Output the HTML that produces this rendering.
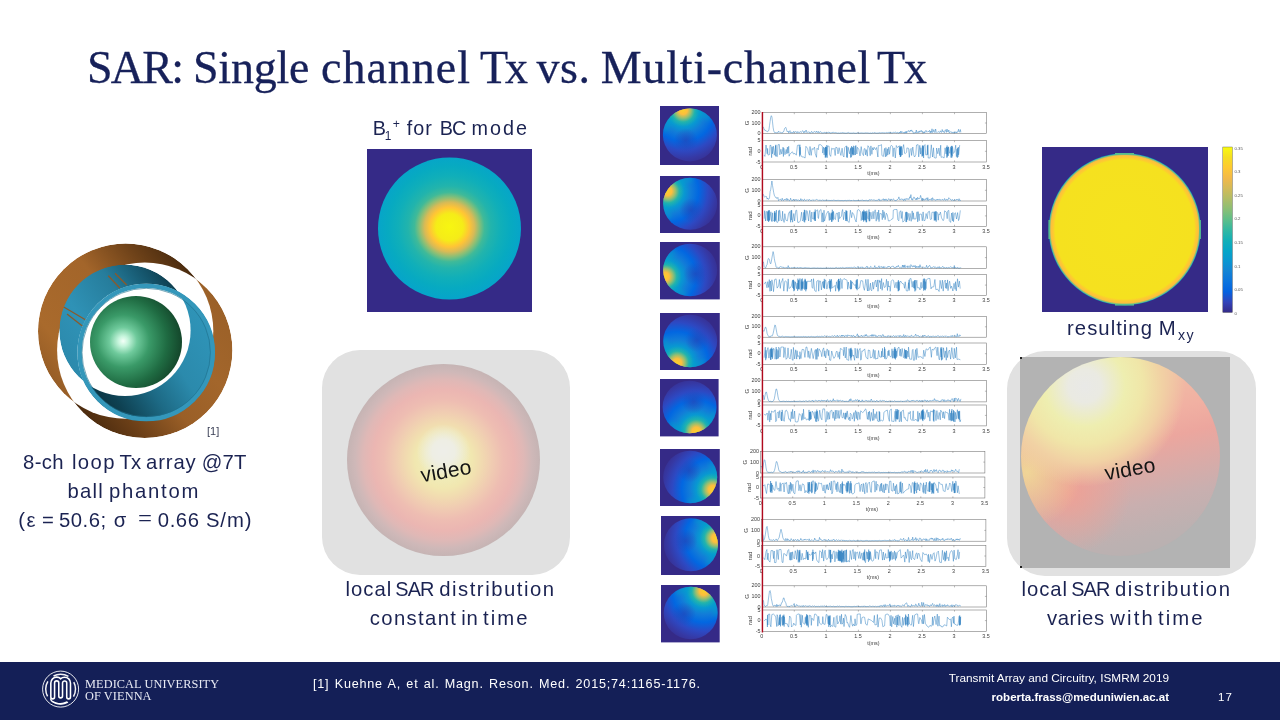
<!DOCTYPE html>
<html><head><meta charset="utf-8"><title>SAR: Single channel Tx vs. Multi-channel Tx</title>
<style>
html,body{margin:0;padding:0;background:#fff}
#s{position:relative;width:1280px;height:720px;overflow:hidden;background:#fff;font-family:"Liberation Sans",sans-serif;color:#1b2352}
#s div,#s svg{position:absolute}
.t{white-space:nowrap;text-align:center;font-size:19px;line-height:29px;letter-spacing:.45px;word-spacing:2px}
h1{position:absolute;margin:0;left:87px;top:41px;font-family:"Liberation Serif",serif;font-weight:normal;font-size:46px;line-height:54px;white-space:nowrap;letter-spacing:-.12px;-webkit-text-stroke:.3px #17215a;color:#17215a}
sub,sup{font-size:58%;line-height:0}sub{vertical-align:-.3em}sup{vertical-align:.52em}
</style></head><body><div id="s">
<h1><span style="position:absolute;left:0.0px;top:0;letter-spacing:-1.76px">SAR:</span> <span style="position:absolute;left:106.0px;top:0;letter-spacing:-0.23px">Single</span> <span style="position:absolute;left:234.0px;top:0;letter-spacing:1.00px">channel</span> <span style="position:absolute;left:393.0px;top:0;letter-spacing:-3.10px">Tx</span> <span style="position:absolute;left:449.4px;top:0;letter-spacing:0.60px">vs.</span> <span style="position:absolute;left:513.8px;top:0;letter-spacing:0.75px">Multi-channel</span> <span style="position:absolute;left:790.0px;top:0;letter-spacing:-1.10px">Tx</span> </h1>

<svg style="left:367px;top:149px" width="165" height="163" viewBox="0 0 165 163"><defs><radialGradient id="bc" cx="50%" cy="49%" r="50%"><stop offset="0.000" stop-color="#f7f611"/><stop offset="0.190" stop-color="#f5ec18"/><stop offset="0.280" stop-color="#ffc436"/><stop offset="0.350" stop-color="#d8ba56"/><stop offset="0.420" stop-color="#88bf77"/><stop offset="0.490" stop-color="#3fba99"/><stop offset="0.580" stop-color="#22b4ac"/><stop offset="0.720" stop-color="#10afb9"/><stop offset="0.860" stop-color="#07aac1"/><stop offset="1.000" stop-color="#06a5c9"/></radialGradient></defs><rect width="165" height="163" fill="#352a87"/><ellipse cx="82.5" cy="79.5" rx="71.5" ry="71" fill="url(#bc)"/></svg>
<div style="left:322px;top:350px;width:248px;height:225px;border-radius:38px;background:#e1e1e1"></div>
<div style="left:347px;top:364px;width:193px;height:192px;border-radius:50%;background:radial-gradient(circle 27px at 50% 45.5%,#eeeee9 0,#eeeee4 42%,rgba(240,238,200,0) 100%),radial-gradient(circle 98px at 50% 50%,#efedc8 0,#f0ecb8 18%,#f1e7b0 29%,#f1dab0 39%,#f0cbb2 50%,#eebdb2 61%,#ebb6b2 72%,#dfb8b6 82%,#cfb8b8 90%,#c3b3b3 100%)"></div>
<div style="left:403.6px;top:458.5px;width:84px;font-size:21px;line-height:24px;letter-spacing:.2px;text-align:center;color:#141414;transform:rotate(-10deg)">video</div>
<div style="left:1007px;top:351px;width:249px;height:225px;border-radius:38px;background:#e1e1e1"></div>
<div style="left:1020px;top:357px;width:210px;height:211px;background:#b3b3b3"></div>
<div style="left:1020px;top:357px;width:210px;height:211px;overflow:hidden"><div style="left:0.5px;top:-0.5px;width:199px;height:199px;border-radius:50%;background:radial-gradient(circle 150px at 32% 14.6%,#e9e9e7 0,#eaeae2 11%,#eeeeb0 27%,#f0e6a8 39%,#f1d2a4 51%,rgba(240,195,160,0) 67%),radial-gradient(circle 55px at 3% 58%,rgba(240,222,150,.85) 0,rgba(240,200,150,0) 100%),radial-gradient(circle 62px at 24% 68%,rgba(240,160,148,.9) 0,rgba(240,160,148,0) 100%),linear-gradient(166deg,#f1cca8 0,#f1b0a2 36%,#eca69e 47%,#dcaaa6 58%,#c9afaf 71%,#bcb1b1 85%,#b5b1b1 100%)"></div></div>
<div style="left:1020px;top:357px;width:2px;height:2px;background:#222"></div><div style="left:1020px;top:566px;width:2px;height:2px;background:#222"></div>
<div style="left:1088px;top:456.5px;width:84px;font-size:21px;line-height:24px;letter-spacing:.2px;text-align:center;color:#141414;transform:rotate(-10deg)">video</div>
<svg style="left:1042px;top:147px" width="166" height="165" viewBox="0 0 166 165"><defs><radialGradient id="mx" cx="50%" cy="50%" r="50%"><stop offset="0.000" stop-color="#f5e31e"/><stop offset="0.915" stop-color="#f5e11f"/><stop offset="0.940" stop-color="#fdcb30"/><stop offset="0.970" stop-color="#fdbe3e"/><stop offset="0.987" stop-color="#7abf7c"/><stop offset="1.000" stop-color="#06a0cd"/></radialGradient></defs><rect width="166" height="165" fill="#352a87"/><circle cx="82.7" cy="82.3" r="76" fill="url(#mx)"/><g fill="#55bd8e"><rect x="73" y="6" width="19" height="1.6"/><rect x="73" y="157" width="19" height="1.6"/><rect x="6.4" y="73" width="1.6" height="19"/><rect x="157.3" y="73" width="1.6" height="19"/></g></svg>
<svg style="left:1218px;top:140px" width="40" height="180" viewBox="0 0 40 180"><defs><linearGradient id="cb" x1="0" y1="0" x2="0" y2="1"><stop offset="0.000" stop-color="#f9fb0e"/><stop offset="0.062" stop-color="#f5de21"/><stop offset="0.125" stop-color="#fec932"/><stop offset="0.188" stop-color="#f2b949"/><stop offset="0.250" stop-color="#d3bb58"/><stop offset="0.312" stop-color="#b1bd66"/><stop offset="0.375" stop-color="#8bbf75"/><stop offset="0.438" stop-color="#5ebe89"/><stop offset="0.500" stop-color="#33b8a1"/><stop offset="0.562" stop-color="#13b0b6"/><stop offset="0.625" stop-color="#06a6c7"/><stop offset="0.688" stop-color="#0a97d1"/><stop offset="0.750" stop-color="#1484d4"/><stop offset="0.812" stop-color="#0c74dd"/><stop offset="0.875" stop-color="#0462e0"/><stop offset="0.938" stop-color="#3243b9"/><stop offset="1.000" stop-color="#352a87"/></linearGradient></defs><rect x="4.8" y="7" width="9.6" height="165.5" fill="url(#cb)" stroke="#555" stroke-width=".4"/><text x="16.5" y="9.6" font-size="4.3" fill="#555" font-family="Liberation Sans,sans-serif">0.35</text><text x="16.5" y="33.2" font-size="4.3" fill="#555" font-family="Liberation Sans,sans-serif">0.3</text><text x="16.5" y="56.7" font-size="4.3" fill="#555" font-family="Liberation Sans,sans-serif">0.25</text><text x="16.5" y="80.3" font-size="4.3" fill="#555" font-family="Liberation Sans,sans-serif">0.2</text><text x="16.5" y="103.9" font-size="4.3" fill="#555" font-family="Liberation Sans,sans-serif">0.15</text><text x="16.5" y="127.5" font-size="4.3" fill="#555" font-family="Liberation Sans,sans-serif">0.1</text><text x="16.5" y="151.0" font-size="4.3" fill="#555" font-family="Liberation Sans,sans-serif">0.05</text><text x="16.5" y="174.6" font-size="4.3" fill="#555" font-family="Liberation Sans,sans-serif">0</text></svg>
<svg style="left:20px;top:235px" width="240" height="215" viewBox="20 235 240 215">
<defs>
<mask id="mb1" maskUnits="userSpaceOnUse" x="20" y="235" width="240" height="215"><circle cx="125.65" cy="331.15" r="87.65" fill="#fff"/><circle cx="144.75" cy="350.25" r="87.65" fill="#000"/></mask>
<mask id="mb2" maskUnits="userSpaceOnUse" x="20" y="235" width="240" height="215"><circle cx="144.75" cy="350.25" r="87.65" fill="#fff"/><circle cx="125.65" cy="331.15" r="87.65" fill="#000"/></mask>
<mask id="mt1" maskUnits="userSpaceOnUse" x="20" y="235" width="240" height="215"><circle cx="125.00" cy="330.40" r="65.60" fill="#fff"/><circle cx="146.20" cy="352.50" r="68.80" fill="#000"/></mask>
<mask id="mt2" maskUnits="userSpaceOnUse" x="20" y="235" width="240" height="215"><circle cx="146.20" cy="352.50" r="68.80" fill="#fff"/><circle cx="125.00" cy="330.40" r="65.60" fill="#000"/></mask>
<linearGradient id="b1" gradientUnits="userSpaceOnUse" x1="45" y1="390" x2="200" y2="265"><stop offset="0" stop-color="#8f5824"/><stop offset=".2" stop-color="#a96a2c"/><stop offset=".55" stop-color="#a3652a"/><stop offset=".78" stop-color="#6e4219"/><stop offset="1" stop-color="#3e230b"/></linearGradient>
<linearGradient id="b2" gradientUnits="userSpaceOnUse" x1="225" y1="300" x2="75" y2="425"><stop offset="0" stop-color="#9a6028"/><stop offset=".3" stop-color="#a3662b"/><stop offset=".55" stop-color="#9a5f27"/><stop offset=".78" stop-color="#6a3e17"/><stop offset="1" stop-color="#3e230b"/></linearGradient>
<linearGradient id="t1" gradientUnits="userSpaceOnUse" x1="62" y1="370" x2="185" y2="285"><stop offset="0" stop-color="#2b88aa"/><stop offset=".3" stop-color="#2f92b6"/><stop offset=".6" stop-color="#267d9c"/><stop offset=".82" stop-color="#15556c"/><stop offset="1" stop-color="#0b3340"/></linearGradient>
<linearGradient id="t2" gradientUnits="userSpaceOnUse" x1="212" y1="330" x2="95" y2="405"><stop offset="0" stop-color="#2f94b8"/><stop offset=".35" stop-color="#2b8aac"/><stop offset=".6" stop-color="#1d6a85"/><stop offset=".85" stop-color="#0e4152"/><stop offset="1" stop-color="#0a303d"/></linearGradient>
<radialGradient id="gb" cx="36%" cy="49%" r="68%"><stop offset="0" stop-color="#f4fff8"/><stop offset=".08" stop-color="#c6f5dc"/><stop offset=".22" stop-color="#6fca9c"/><stop offset=".42" stop-color="#3a9a68"/><stop offset=".7" stop-color="#1f6b42"/><stop offset="1" stop-color="#113d25"/></radialGradient>
</defs>
<g mask="url(#mb1)"><circle cx="125.65" cy="331.15" r="87.65" fill="url(#b1)"/></g><g mask="url(#mb2)"><circle cx="144.75" cy="350.25" r="87.65" fill="url(#b2)"/></g>
<g mask="url(#mt1)"><circle cx="125.00" cy="330.40" r="65.60" fill="url(#t1)"/><g stroke="#8a5a2c" stroke-width="1.3"><line x1="108.3" y1="275.8" x2="120" y2="288.3"/><line x1="115" y1="273.3" x2="126.7" y2="285"/><line x1="63.3" y1="306.7" x2="85.8" y2="320"/><line x1="67" y1="314" x2="83.3" y2="326.7"/></g></g>
<g mask="url(#mt2)"><circle cx="146.20" cy="352.50" r="68.80" fill="url(#t2)"/></g>
<circle cx="146.20" cy="352.50" r="66.60" fill="none" stroke="#3497ba" stroke-width="4.4"/><circle cx="146.20" cy="352.50" r="64.20" fill="none" stroke="#1f6f8c" stroke-width=".6"/>
<circle cx="136" cy="342" r="46" fill="url(#gb)"/>
<text x="207" y="435" font-size="11" fill="#3a3f55" font-family="Liberation Sans,sans-serif">[1]</text>
</svg>
<svg style="left:660.0px;top:106.1px" width="59.2" height="59.2" viewBox="0 0 59.2 59.2"><defs><radialGradient id="m0" gradientUnits="userSpaceOnUse" cx="23.1" cy="4.1" r="54.0"><stop offset="0.00" stop-color="#fad12b"/><stop offset="0.08" stop-color="#fdbe3e"/><stop offset="0.15" stop-color="#95bf71"/><stop offset="0.22" stop-color="#22b4ac"/><stop offset="0.31" stop-color="#0899d1"/><stop offset="0.43" stop-color="#127cd8"/><stop offset="0.58" stop-color="#0267e1"/><stop offset="0.75" stop-color="#2d49c3"/><stop offset="0.90" stop-color="#3638a3"/><stop offset="1.00" stop-color="#363093"/></radialGradient><radialGradient id="h0" gradientUnits="userSpaceOnUse" cx="23.1" cy="4.1" r="54.0"><stop offset="0.00" stop-color="#fad12b" stop-opacity="1.00"/><stop offset="0.08" stop-color="#fdbe3e" stop-opacity="1.00"/><stop offset="0.15" stop-color="#95bf71" stop-opacity="0.95"/><stop offset="0.22" stop-color="#22b4ac" stop-opacity="0.60"/><stop offset="0.30" stop-color="#06a0cd" stop-opacity="0.00"/></radialGradient><radialGradient id="d0" gradientUnits="userSpaceOnUse" cx="25.9" cy="34.2" r="12"><stop offset="0" stop-color="#2a3fb0" stop-opacity=".6"/><stop offset="1" stop-color="#2a3fb0" stop-opacity="0"/></radialGradient><clipPath id="c0"><ellipse cx="29.9" cy="28.9" rx="27.0" ry="26.5"/></clipPath><filter id="f0" x="-30%" y="-30%" width="160%" height="160%"><feGaussianBlur stdDeviation="2.2"/></filter></defs><rect width="59.2" height="59.2" fill="#352a87"/><ellipse cx="29.9" cy="28.9" rx="27.0" ry="26.5" fill="url(#m0)"/><g clip-path="url(#c0)"><path d="M5.1 25.0A25.1 24.6 0 0 1 49.4 13.4" fill="none" stroke="#06a3cb" stroke-width="5" stroke-opacity=".55" filter="url(#f0)"/></g><ellipse cx="29.9" cy="28.9" rx="27.0" ry="26.5" fill="url(#h0)"/><ellipse cx="29.9" cy="28.9" rx="27.0" ry="26.5" fill="url(#d0)"/></svg>
<svg style="left:660.0px;top:175.9px" width="59.8" height="57.0" viewBox="0 0 59.8 57.0"><defs><radialGradient id="m1" gradientUnits="userSpaceOnUse" cx="7.5" cy="15.2" r="54.0"><stop offset="0.00" stop-color="#fad12b"/><stop offset="0.08" stop-color="#fdbe3e"/><stop offset="0.15" stop-color="#95bf71"/><stop offset="0.22" stop-color="#22b4ac"/><stop offset="0.31" stop-color="#0899d1"/><stop offset="0.43" stop-color="#127cd8"/><stop offset="0.58" stop-color="#0267e1"/><stop offset="0.75" stop-color="#2d49c3"/><stop offset="0.90" stop-color="#3638a3"/><stop offset="1.00" stop-color="#363093"/></radialGradient><radialGradient id="h1" gradientUnits="userSpaceOnUse" cx="7.5" cy="15.2" r="54.0"><stop offset="0.00" stop-color="#fad12b" stop-opacity="1.00"/><stop offset="0.08" stop-color="#fdbe3e" stop-opacity="1.00"/><stop offset="0.15" stop-color="#95bf71" stop-opacity="0.95"/><stop offset="0.22" stop-color="#22b4ac" stop-opacity="0.60"/><stop offset="0.30" stop-color="#06a0cd" stop-opacity="0.00"/></radialGradient><radialGradient id="d1" gradientUnits="userSpaceOnUse" cx="31.2" cy="34.2" r="12"><stop offset="0" stop-color="#2a3fb0" stop-opacity=".6"/><stop offset="1" stop-color="#2a3fb0" stop-opacity="0"/></radialGradient><clipPath id="c1"><ellipse cx="30.2" cy="27.8" rx="27.0" ry="26.0"/></clipPath><filter id="f1" x="-30%" y="-30%" width="160%" height="160%"><feGaussianBlur stdDeviation="2.2"/></filter></defs><rect width="59.8" height="57.0" fill="#352a87"/><ellipse cx="30.2" cy="27.8" rx="27.0" ry="26.0" fill="url(#m1)"/><g clip-path="url(#c1)"><path d="M9.9 42.0A25.1 24.2 0 0 1 32.8 3.7" fill="none" stroke="#06a3cb" stroke-width="5" stroke-opacity=".55" filter="url(#f1)"/></g><ellipse cx="30.2" cy="27.8" rx="27.0" ry="26.0" fill="url(#h1)"/><ellipse cx="30.2" cy="27.8" rx="27.0" ry="26.0" fill="url(#d1)"/></svg>
<svg style="left:660.0px;top:242.2px" width="59.8" height="57.4" viewBox="0 0 59.8 57.4"><defs><radialGradient id="m2" gradientUnits="userSpaceOnUse" cx="4.9" cy="34.6" r="54.0"><stop offset="0.00" stop-color="#fad12b"/><stop offset="0.08" stop-color="#fdbe3e"/><stop offset="0.15" stop-color="#95bf71"/><stop offset="0.22" stop-color="#22b4ac"/><stop offset="0.31" stop-color="#0899d1"/><stop offset="0.43" stop-color="#127cd8"/><stop offset="0.58" stop-color="#0267e1"/><stop offset="0.75" stop-color="#2d49c3"/><stop offset="0.90" stop-color="#3638a3"/><stop offset="1.00" stop-color="#363093"/></radialGradient><radialGradient id="h2" gradientUnits="userSpaceOnUse" cx="4.9" cy="34.6" r="54.0"><stop offset="0.00" stop-color="#fad12b" stop-opacity="1.00"/><stop offset="0.08" stop-color="#fdbe3e" stop-opacity="1.00"/><stop offset="0.15" stop-color="#95bf71" stop-opacity="0.95"/><stop offset="0.22" stop-color="#22b4ac" stop-opacity="0.60"/><stop offset="0.30" stop-color="#06a0cd" stop-opacity="0.00"/></radialGradient><radialGradient id="d2" gradientUnits="userSpaceOnUse" cx="35.6" cy="31.9" r="12"><stop offset="0" stop-color="#2a3fb0" stop-opacity=".6"/><stop offset="1" stop-color="#2a3fb0" stop-opacity="0"/></radialGradient><clipPath id="c2"><ellipse cx="30.2" cy="28.0" rx="27.0" ry="26.2"/></clipPath><filter id="f2" x="-30%" y="-30%" width="160%" height="160%"><feGaussianBlur stdDeviation="2.2"/></filter></defs><rect width="59.8" height="57.4" fill="#352a87"/><ellipse cx="30.2" cy="28.0" rx="27.0" ry="26.2" fill="url(#m2)"/><g clip-path="url(#c2)"><path d="M26.2 52.1A25.1 24.4 0 0 1 14.4 9.1" fill="none" stroke="#06a3cb" stroke-width="5" stroke-opacity=".55" filter="url(#f2)"/></g><ellipse cx="30.2" cy="28.0" rx="27.0" ry="26.2" fill="url(#h2)"/><ellipse cx="30.2" cy="28.0" rx="27.0" ry="26.2" fill="url(#d2)"/></svg>
<svg style="left:660.0px;top:312.5px" width="59.8" height="57.4" viewBox="0 0 59.8 57.4"><defs><radialGradient id="m3" gradientUnits="userSpaceOnUse" cx="17.1" cy="50.0" r="54.0"><stop offset="0.00" stop-color="#fad12b"/><stop offset="0.08" stop-color="#fdbe3e"/><stop offset="0.15" stop-color="#95bf71"/><stop offset="0.22" stop-color="#22b4ac"/><stop offset="0.31" stop-color="#0899d1"/><stop offset="0.43" stop-color="#127cd8"/><stop offset="0.58" stop-color="#0267e1"/><stop offset="0.75" stop-color="#2d49c3"/><stop offset="0.90" stop-color="#3638a3"/><stop offset="1.00" stop-color="#363093"/></radialGradient><radialGradient id="h3" gradientUnits="userSpaceOnUse" cx="17.1" cy="50.0" r="54.0"><stop offset="0.00" stop-color="#fad12b" stop-opacity="1.00"/><stop offset="0.08" stop-color="#fdbe3e" stop-opacity="1.00"/><stop offset="0.15" stop-color="#95bf71" stop-opacity="0.95"/><stop offset="0.22" stop-color="#22b4ac" stop-opacity="0.60"/><stop offset="0.30" stop-color="#06a0cd" stop-opacity="0.00"/></radialGradient><radialGradient id="d3" gradientUnits="userSpaceOnUse" cx="36.9" cy="27.0" r="12"><stop offset="0" stop-color="#2a3fb0" stop-opacity=".6"/><stop offset="1" stop-color="#2a3fb0" stop-opacity="0"/></radialGradient><clipPath id="c3"><ellipse cx="30.2" cy="28.0" rx="27.0" ry="26.2"/></clipPath><filter id="f3" x="-30%" y="-30%" width="160%" height="160%"><feGaussianBlur stdDeviation="2.2"/></filter></defs><rect width="59.8" height="57.4" fill="#352a87"/><ellipse cx="30.2" cy="28.0" rx="27.0" ry="26.2" fill="url(#m3)"/><g clip-path="url(#c3)"><path d="M44.9 47.7A25.1 24.4 0 0 1 5.2 25.5" fill="none" stroke="#06a3cb" stroke-width="5" stroke-opacity=".55" filter="url(#f3)"/></g><ellipse cx="30.2" cy="28.0" rx="27.0" ry="26.2" fill="url(#h3)"/><ellipse cx="30.2" cy="28.0" rx="27.0" ry="26.2" fill="url(#d3)"/></svg>
<svg style="left:660.0px;top:379.4px" width="58.6" height="57.4" viewBox="0 0 58.6 57.4"><defs><radialGradient id="m4" gradientUnits="userSpaceOnUse" cx="36.4" cy="52.5" r="54.0"><stop offset="0.00" stop-color="#fad12b"/><stop offset="0.08" stop-color="#fdbe3e"/><stop offset="0.15" stop-color="#95bf71"/><stop offset="0.22" stop-color="#22b4ac"/><stop offset="0.31" stop-color="#0899d1"/><stop offset="0.43" stop-color="#127cd8"/><stop offset="0.58" stop-color="#0267e1"/><stop offset="0.75" stop-color="#2d49c3"/><stop offset="0.90" stop-color="#3638a3"/><stop offset="1.00" stop-color="#363093"/></radialGradient><radialGradient id="h4" gradientUnits="userSpaceOnUse" cx="36.4" cy="52.5" r="54.0"><stop offset="0.00" stop-color="#fad12b" stop-opacity="1.00"/><stop offset="0.08" stop-color="#fdbe3e" stop-opacity="1.00"/><stop offset="0.15" stop-color="#95bf71" stop-opacity="0.95"/><stop offset="0.22" stop-color="#22b4ac" stop-opacity="0.60"/><stop offset="0.30" stop-color="#06a0cd" stop-opacity="0.00"/></radialGradient><radialGradient id="d4" gradientUnits="userSpaceOnUse" cx="33.6" cy="22.7" r="12"><stop offset="0" stop-color="#2a3fb0" stop-opacity=".6"/><stop offset="1" stop-color="#2a3fb0" stop-opacity="0"/></radialGradient><clipPath id="c4"><ellipse cx="29.6" cy="28.0" rx="27.0" ry="26.2"/></clipPath><filter id="f4" x="-30%" y="-30%" width="160%" height="160%"><feGaussianBlur stdDeviation="2.2"/></filter></defs><rect width="58.6" height="57.4" fill="#352a87"/><ellipse cx="29.6" cy="28.0" rx="27.0" ry="26.2" fill="url(#m4)"/><g clip-path="url(#c4)"><path d="M54.4 31.9A25.1 24.4 0 0 1 10.1 43.4" fill="none" stroke="#06a3cb" stroke-width="5" stroke-opacity=".55" filter="url(#f4)"/></g><ellipse cx="29.6" cy="28.0" rx="27.0" ry="26.2" fill="url(#h4)"/><ellipse cx="29.6" cy="28.0" rx="27.0" ry="26.2" fill="url(#d4)"/></svg>
<svg style="left:660.0px;top:448.5px" width="59.8" height="57.4" viewBox="0 0 59.8 57.4"><defs><radialGradient id="m5" gradientUnits="userSpaceOnUse" cx="52.9" cy="40.7" r="54.0"><stop offset="0.00" stop-color="#fad12b"/><stop offset="0.08" stop-color="#fdbe3e"/><stop offset="0.15" stop-color="#95bf71"/><stop offset="0.22" stop-color="#22b4ac"/><stop offset="0.31" stop-color="#0899d1"/><stop offset="0.43" stop-color="#127cd8"/><stop offset="0.58" stop-color="#0267e1"/><stop offset="0.75" stop-color="#2d49c3"/><stop offset="0.90" stop-color="#3638a3"/><stop offset="1.00" stop-color="#363093"/></radialGradient><radialGradient id="h5" gradientUnits="userSpaceOnUse" cx="52.9" cy="40.7" r="54.0"><stop offset="0.00" stop-color="#fad12b" stop-opacity="1.00"/><stop offset="0.08" stop-color="#fdbe3e" stop-opacity="1.00"/><stop offset="0.15" stop-color="#95bf71" stop-opacity="0.95"/><stop offset="0.22" stop-color="#22b4ac" stop-opacity="0.60"/><stop offset="0.30" stop-color="#06a0cd" stop-opacity="0.00"/></radialGradient><radialGradient id="d5" gradientUnits="userSpaceOnUse" cx="29.2" cy="21.5" r="12"><stop offset="0" stop-color="#2a3fb0" stop-opacity=".6"/><stop offset="1" stop-color="#2a3fb0" stop-opacity="0"/></radialGradient><clipPath id="c5"><ellipse cx="30.2" cy="28.0" rx="27.0" ry="26.2"/></clipPath><filter id="f5" x="-30%" y="-30%" width="160%" height="160%"><feGaussianBlur stdDeviation="2.2"/></filter></defs><rect width="59.8" height="57.4" fill="#352a87"/><ellipse cx="30.2" cy="28.0" rx="27.0" ry="26.2" fill="url(#m5)"/><g clip-path="url(#c5)"><path d="M50.5 13.7A25.1 24.4 0 0 1 27.6 52.2" fill="none" stroke="#06a3cb" stroke-width="5" stroke-opacity=".55" filter="url(#f5)"/></g><ellipse cx="30.2" cy="28.0" rx="27.0" ry="26.2" fill="url(#h5)"/><ellipse cx="30.2" cy="28.0" rx="27.0" ry="26.2" fill="url(#d5)"/></svg>
<svg style="left:660.6px;top:516.2px" width="59.2" height="59.0" viewBox="0 0 59.2 59.0"><defs><radialGradient id="m6" gradientUnits="userSpaceOnUse" cx="55.2" cy="22.1" r="54.0"><stop offset="0.00" stop-color="#fad12b"/><stop offset="0.08" stop-color="#fdbe3e"/><stop offset="0.15" stop-color="#95bf71"/><stop offset="0.22" stop-color="#22b4ac"/><stop offset="0.31" stop-color="#0899d1"/><stop offset="0.43" stop-color="#127cd8"/><stop offset="0.58" stop-color="#0267e1"/><stop offset="0.75" stop-color="#2d49c3"/><stop offset="0.90" stop-color="#3638a3"/><stop offset="1.00" stop-color="#363093"/></radialGradient><radialGradient id="h6" gradientUnits="userSpaceOnUse" cx="55.2" cy="22.1" r="54.0"><stop offset="0.00" stop-color="#fad12b" stop-opacity="1.00"/><stop offset="0.08" stop-color="#fdbe3e" stop-opacity="1.00"/><stop offset="0.15" stop-color="#95bf71" stop-opacity="0.95"/><stop offset="0.22" stop-color="#22b4ac" stop-opacity="0.60"/><stop offset="0.30" stop-color="#06a0cd" stop-opacity="0.00"/></radialGradient><radialGradient id="d6" gradientUnits="userSpaceOnUse" cx="24.5" cy="24.9" r="12"><stop offset="0" stop-color="#2a3fb0" stop-opacity=".6"/><stop offset="1" stop-color="#2a3fb0" stop-opacity="0"/></radialGradient><clipPath id="c6"><ellipse cx="29.9" cy="28.8" rx="27.0" ry="26.5"/></clipPath><filter id="f6" x="-30%" y="-30%" width="160%" height="160%"><feGaussianBlur stdDeviation="2.2"/></filter></defs><rect width="59.2" height="59.0" fill="#352a87"/><ellipse cx="29.9" cy="28.8" rx="27.0" ry="26.5" fill="url(#m6)"/><g clip-path="url(#c6)"><path d="M33.9 4.5A25.1 24.6 0 0 1 45.7 47.9" fill="none" stroke="#06a3cb" stroke-width="5" stroke-opacity=".55" filter="url(#f6)"/></g><ellipse cx="29.9" cy="28.8" rx="27.0" ry="26.5" fill="url(#h6)"/><ellipse cx="29.9" cy="28.8" rx="27.0" ry="26.5" fill="url(#d6)"/></svg>
<svg style="left:661.0px;top:585.3px" width="58.7" height="57.4" viewBox="0 0 58.7 57.4"><defs><radialGradient id="m7" gradientUnits="userSpaceOnUse" cx="42.7" cy="6.0" r="54.0"><stop offset="0.00" stop-color="#fad12b"/><stop offset="0.08" stop-color="#fdbe3e"/><stop offset="0.15" stop-color="#95bf71"/><stop offset="0.22" stop-color="#22b4ac"/><stop offset="0.31" stop-color="#0899d1"/><stop offset="0.43" stop-color="#127cd8"/><stop offset="0.58" stop-color="#0267e1"/><stop offset="0.75" stop-color="#2d49c3"/><stop offset="0.90" stop-color="#3638a3"/><stop offset="1.00" stop-color="#363093"/></radialGradient><radialGradient id="h7" gradientUnits="userSpaceOnUse" cx="42.7" cy="6.0" r="54.0"><stop offset="0.00" stop-color="#fad12b" stop-opacity="1.00"/><stop offset="0.08" stop-color="#fdbe3e" stop-opacity="1.00"/><stop offset="0.15" stop-color="#95bf71" stop-opacity="0.95"/><stop offset="0.22" stop-color="#22b4ac" stop-opacity="0.60"/><stop offset="0.30" stop-color="#06a0cd" stop-opacity="0.00"/></radialGradient><radialGradient id="d7" gradientUnits="userSpaceOnUse" cx="23.0" cy="29.0" r="12"><stop offset="0" stop-color="#2a3fb0" stop-opacity=".6"/><stop offset="1" stop-color="#2a3fb0" stop-opacity="0"/></radialGradient><clipPath id="c7"><ellipse cx="29.7" cy="28.0" rx="27.0" ry="26.2"/></clipPath><filter id="f7" x="-30%" y="-30%" width="160%" height="160%"><feGaussianBlur stdDeviation="2.2"/></filter></defs><rect width="58.7" height="57.4" fill="#352a87"/><ellipse cx="29.7" cy="28.0" rx="27.0" ry="26.2" fill="url(#m7)"/><g clip-path="url(#c7)"><path d="M14.9 8.3A25.1 24.4 0 0 1 54.6 30.5" fill="none" stroke="#06a3cb" stroke-width="5" stroke-opacity=".55" filter="url(#f7)"/></g><ellipse cx="29.7" cy="28.0" rx="27.0" ry="26.2" fill="url(#h7)"/><ellipse cx="29.7" cy="28.0" rx="27.0" ry="26.2" fill="url(#d7)"/></svg>
<svg style="left:740px;top:100px" width="260" height="550" viewBox="740 100 260 550" font-family="Liberation Sans,sans-serif" font-size="5.4" fill="#3c3c3c"><g transform="translate(0.0 0)"><g fill="none" stroke="#6f6f6f" stroke-width=".55"><rect x="762.3" y="112.6" width="224.2" height="20.9"/><rect x="762.3" y="140.6" width="224.2" height="21.4"/></g><path d="M794.3 112.6v1.6M794.3 133.5v-1.6M794.3 140.6v1.6M794.3 162.0v-1.6M826.4 112.6v1.6M826.4 133.5v-1.6M826.4 140.6v1.6M826.4 162.0v-1.6M858.4 112.6v1.6M858.4 133.5v-1.6M858.4 140.6v1.6M858.4 162.0v-1.6M890.4 112.6v1.6M890.4 133.5v-1.6M890.4 140.6v1.6M890.4 162.0v-1.6M922.4 112.6v1.6M922.4 133.5v-1.6M922.4 140.6v1.6M922.4 162.0v-1.6M954.5 112.6v1.6M954.5 133.5v-1.6M954.5 140.6v1.6M954.5 162.0v-1.6M986.5 123.0h-1.6M986.5 151.3h-1.6" stroke="#777" stroke-width=".5" fill="none"/><text x="761.8" y="168.5" text-anchor="middle">0</text><text x="793.8" y="168.5" text-anchor="middle">0.5</text><text x="825.9" y="168.5" text-anchor="middle">1</text><text x="857.9" y="168.5" text-anchor="middle">1.5</text><text x="889.9" y="168.5" text-anchor="middle">2</text><text x="921.9" y="168.5" text-anchor="middle">2.5</text><text x="954.0" y="168.5" text-anchor="middle">3</text><text x="986.0" y="168.5" text-anchor="middle">3.5</text><text x="873.4" y="175.0" text-anchor="middle">t(ms)</text><text x="760.5" y="114.1" text-anchor="end">200</text><text x="760.5" y="124.5" text-anchor="end">100</text><text x="760.5" y="135.0" text-anchor="end">0</text><text x="760.5" y="142.1" text-anchor="end">5</text><text x="760.5" y="152.8" text-anchor="end">0</text><text x="760.5" y="163.5" text-anchor="end">-5</text><text transform="translate(749.0 123.0) rotate(-90)" text-anchor="middle" font-size="6">G</text><text transform="translate(752.3 151.3) rotate(-90)" text-anchor="middle" font-size="6.2">rad</text><path d="M762.3 127.2L762.9 127.2L763.5 127.2L764.1 129.7L764.7 129.7L765.3 130.8L765.9 130.4L766.5 131.3L767.1 131.0L767.7 131.7L768.3 131.2L768.9 130.0L769.5 125.5L770.1 121.5L770.7 117.3L771.3 115.7L771.9 116.9L772.5 121.8L773.1 127.3L773.7 130.7L774.3 132.2L774.9 132.9L775.5 132.5L776.1 132.4L776.7 132.8L777.3 132.7L777.9 132.4L778.5 131.2L779.1 132.5L779.8 131.8L780.4 132.4L781.0 132.3L781.6 132.8L782.2 133.0L782.8 132.1L783.4 132.0L784.0 130.6L784.6 128.4L785.2 127.9L785.8 127.3L786.4 129.1L787.0 131.3L787.6 132.0L788.2 131.1L788.8 133.1L789.4 131.5L790.0 130.6L790.6 132.8L791.2 133.0L791.8 132.1L792.4 132.5L793.0 133.1L793.6 131.3L794.2 132.1L794.8 132.3L795.4 131.9L796.0 131.3L796.6 132.7L797.2 133.0L797.8 131.5L798.4 132.4L799.0 132.4L799.6 132.6L800.2 131.5L800.8 131.9L801.4 132.5L802.0 131.5L802.6 130.6L803.2 131.3L803.8 132.9L804.4 131.4L805.0 132.5L805.6 130.8L806.2 130.0L806.8 132.7L807.4 132.3L808.0 131.8L808.6 132.0L809.2 131.9L809.8 133.0L810.4 132.9L811.0 132.7L811.6 131.3L812.2 132.5L812.8 132.6L813.4 132.6L814.1 131.4L814.7 131.8L815.3 132.1L815.9 132.6L816.5 131.1L817.1 132.5L817.7 132.3L818.3 131.3L818.9 133.0L819.5 132.2L820.1 131.9L820.7 131.6L821.3 132.7L821.9 133.0L822.5 132.9L823.1 132.6L823.7 133.1L824.3 132.2L824.9 132.6L825.5 132.8L826.1 132.3L826.7 133.2L827.3 132.5L827.9 132.4L828.5 132.0L829.1 132.8L829.7 132.2L830.3 133.1L830.9 133.1L831.5 133.0L832.1 132.2L832.7 132.5L833.3 132.4L833.9 132.4L834.5 132.7L835.1 132.8L835.7 132.5L836.3 132.7L836.9 133.0L837.5 133.1L838.1 133.1L838.7 132.9L839.3 133.1L839.9 133.1L840.5 132.9L841.1 133.2L841.7 132.8L842.3 132.9L842.9 132.3L843.5 133.1L844.1 133.0L844.7 133.0L845.3 133.2L845.9 132.9L846.5 133.1L847.1 133.1L847.7 132.6L848.4 132.4L849.0 132.8L849.6 133.1L850.2 133.1L850.8 133.1L851.4 133.1L852.0 133.0L852.6 133.1L853.2 133.1L853.8 132.6L854.4 133.1L855.0 133.1L855.6 133.2L856.2 133.1L856.8 133.2L857.4 132.6L858.0 133.1L858.6 133.0L859.2 133.0L859.8 133.2L860.4 133.0L861.0 133.0L861.6 132.9L862.2 132.9L862.8 133.1L863.4 133.1L864.0 133.1L864.6 133.0L865.2 132.7L865.8 133.0L866.4 132.9L867.0 133.1L867.6 132.9L868.2 133.2L868.8 132.9L869.4 133.2L870.0 133.1L870.6 133.0L871.2 133.2L871.8 133.2L872.4 132.8L873.0 132.9L873.6 133.1L874.2 132.5L874.8 132.9L875.4 132.9L876.0 133.1L876.6 133.1L877.2 133.0L877.8 133.1L878.4 133.0L879.0 132.7L879.6 132.7L880.2 133.0L880.8 132.8L881.4 132.8L882.0 132.6L882.6 132.7L883.3 132.9L883.9 132.5L884.5 132.8L885.1 133.2L885.7 132.6L886.3 132.8L886.9 132.4L887.5 132.7L888.1 132.3L888.7 132.6L889.3 133.1L889.9 132.0L890.5 132.3L891.1 133.1L891.7 132.8L892.3 132.9L892.9 132.9L893.5 132.2L894.1 132.5L894.7 132.4L895.3 132.1L895.9 132.1L896.5 133.1L897.1 132.6L897.7 132.4L898.3 133.1L898.9 133.1L899.5 132.0L900.1 133.0L900.7 131.2L901.3 132.8L901.9 131.5L902.5 132.4L903.1 132.9L903.7 132.3L904.3 133.2L904.9 131.9L905.5 133.1L906.1 131.1L906.7 133.1L907.3 131.5L907.9 130.8L908.5 130.6L909.1 132.1L909.7 131.7L910.3 130.1L910.9 131.4L911.5 129.9L912.1 131.4L912.7 131.1L913.3 133.2L913.9 132.9L914.5 133.1L915.1 132.2L915.7 132.8L916.3 130.0L916.9 133.1L917.6 132.2L918.2 131.4L918.8 132.8L919.4 130.9L920.0 132.2L920.6 131.2L921.2 130.2L921.8 132.1L922.4 131.3L923.0 131.7L923.6 133.2L924.2 131.7L924.8 132.9L925.4 131.0L926.0 130.3L926.6 132.0L927.2 131.5L927.8 132.1L928.4 131.5L929.0 131.7L929.6 130.3L930.2 133.0L930.8 131.0L931.4 132.5L932.0 128.8L932.6 132.6L933.2 132.0L933.8 129.6L934.4 131.8L935.0 132.7L935.6 129.0L936.2 131.6L936.8 132.6L937.4 132.3L938.0 131.7L938.6 131.8L939.2 132.0L939.8 132.6L940.4 130.8L941.0 132.0L941.6 132.4L942.2 129.5L942.8 131.6L943.4 130.9L944.0 132.7L944.6 132.4L945.2 129.8L945.8 130.1L946.4 132.4L947.0 129.0L947.6 131.6L948.2 132.0L948.8 130.0L949.4 133.0L950.0 132.3L950.6 131.7L951.2 131.7L951.9 133.0L952.5 132.7L953.1 131.9L953.7 133.1L954.3 132.9L954.9 131.6L955.5 132.6L956.1 131.8L956.7 133.0L957.3 131.9L957.9 132.0L958.5 129.3L959.1 131.6L959.7 132.3L960.3 129.5L960.9 132.3" fill="none" stroke="#2278bd" stroke-width=".5" stroke-opacity=".9"/><path d="M764.2 155.2L764.9 156.4L766.0 145.0L767.2 153.8L767.6 148.4L768.0 155.1L769.6 154.5L770.0 145.3L771.0 145.5L771.6 157.7L772.1 146.9L772.5 153.8L773.3 146.1L774.3 155.2L775.6 145.6L775.6 145.6L775.8 156.4L775.9 144.8L776.2 156.0L777.4 156.6L778.0 144.7L779.4 144.6L779.8 154.8L780.9 149.2L781.8 154.1L783.1 147.1L783.4 156.5L783.8 148.2L785.0 154.7L786.2 149.4L786.9 153.9L787.4 147.1L788.0 153.0L788.7 146.3L789.1 156.2L789.8 154.4L791.1 152.9L792.4 151.8L793.5 154.0L795.0 153.4L796.3 155.2L797.4 145.4L799.1 145.0L799.7 156.5L799.7 156.5L799.9 144.7L800.0 154.7L800.2 147.2L800.6 154.8L801.9 156.9L803.5 157.0L805.1 158.0L805.9 146.3L807.6 148.5L808.6 153.2L809.5 155.2L810.0 146.5L811.2 155.4L812.0 148.5L813.2 149.6L814.5 147.1L815.2 153.4L816.5 157.3L817.0 148.2L818.3 149.7L818.8 144.8L820.6 144.7L822.3 146.1L822.7 153.1L823.7 147.0L824.1 154.9L824.8 148.0L825.3 157.7L825.3 157.7L825.5 146.8L825.7 156.6L825.9 147.1L826.1 157.4L826.3 147.2L826.5 155.2L826.8 145.0L827.2 157.7L827.6 146.0L829.1 146.2L829.5 154.4L830.7 156.4L831.7 148.1L833.1 149.3L834.1 148.2L835.2 155.5L835.8 147.3L837.1 147.7L838.0 153.9L839.1 147.7L840.2 153.1L840.9 155.4L842.1 148.2L843.0 155.5L843.9 157.0L844.7 147.6L846.4 145.8L846.4 145.8L846.8 157.2L846.9 146.4L847.2 157.8L848.2 147.3L849.5 153.8L850.6 148.4L850.6 148.4L850.8 157.7L851.0 147.6L851.2 157.0L851.5 146.2L852.4 154.1L852.4 154.1L852.6 147.1L852.8 155.4L853.1 148.0L853.3 154.7L853.4 145.8L854.1 155.1L855.1 146.1L855.4 155.0L855.8 145.4L856.9 154.0L857.4 147.3L858.8 149.3L860.0 155.9L861.2 146.6L862.1 153.1L862.9 154.6L863.5 155.6L864.1 148.8L865.0 148.6L865.6 154.9L866.2 149.6L867.3 156.2L867.9 145.7L869.4 147.9L870.2 155.7L870.9 145.9L871.9 154.3L872.6 147.7L873.4 150.0L874.1 147.2L875.6 149.6L876.6 147.5L877.9 157.0L878.3 145.5L879.9 145.6L881.5 144.6L881.9 155.5L883.4 156.5L884.5 148.4L885.4 156.9L885.9 147.6L886.7 156.3L887.4 148.8L887.8 155.0L888.8 147.1L889.5 154.2L890.6 146.2L891.2 145.4L892.6 146.4L893.1 156.7L893.5 148.4L894.5 148.0L895.3 158.0L896.3 145.5L897.4 147.6L899.2 145.8L899.2 145.8L899.5 154.7L899.7 147.4L900.0 155.1L900.1 145.8L900.3 157.0L900.3 157.0L900.5 147.4L900.7 156.8L901.0 146.9L901.2 155.6L901.3 146.2L902.2 155.0L902.6 149.1L903.6 144.6L904.6 153.3L905.2 153.7L906.6 152.2L906.9 147.9L908.6 148.3L909.3 157.4L910.2 149.5L911.1 148.4L911.6 155.5L912.8 147.0L913.9 155.5L914.6 157.0L915.8 154.6L916.5 145.0L918.1 144.6L918.7 156.9L919.8 145.3L920.5 154.1L920.9 147.7L922.1 156.6L922.1 156.6L922.4 145.7L922.6 155.9L922.9 145.4L923.2 155.4L923.3 146.3L923.6 158.0L923.9 145.9L925.0 144.6L925.7 154.8L927.1 154.8L927.1 154.8L927.4 145.5L927.7 154.7L927.9 144.8L928.2 158.0L930.1 158.0L931.3 144.8L932.5 157.0L933.5 147.8L934.1 157.5L935.3 158.0L936.2 158.0L936.6 148.0L937.8 153.8L938.9 148.0L939.8 155.7L940.7 145.2L941.1 157.4L942.1 156.8L944.1 158.0L945.1 147.8L946.1 153.9L946.1 153.9L946.5 147.0L946.9 157.8L947.1 145.5L947.3 156.7L947.6 147.9L947.7 154.7L948.0 147.0L948.2 156.0L948.5 146.8L949.6 153.1L950.2 153.3L950.8 147.1L950.8 147.1L951.0 157.6L951.3 146.0L951.4 155.1L951.6 148.0L951.8 157.7L951.9 145.8L952.2 156.3L952.5 146.6L953.4 153.3L954.6 152.2L955.7 145.2L956.4 156.7L957.0 149.1L957.0 149.1L957.3 157.8L957.6 147.9L958.0 156.9L958.4 147.1L958.6 154.8L959.7 145.1" fill="none" stroke="#2278bd" stroke-width=".5" stroke-opacity=".9"/></g><g transform="translate(0.0 0)"><g fill="none" stroke="#6f6f6f" stroke-width=".55"><rect x="762.3" y="179.6" width="224.2" height="21.4"/><rect x="762.3" y="205.6" width="224.2" height="20.7"/></g><path d="M794.3 179.6v1.6M794.3 201.0v-1.6M794.3 205.6v1.6M794.3 226.3v-1.6M826.4 179.6v1.6M826.4 201.0v-1.6M826.4 205.6v1.6M826.4 226.3v-1.6M858.4 179.6v1.6M858.4 201.0v-1.6M858.4 205.6v1.6M858.4 226.3v-1.6M890.4 179.6v1.6M890.4 201.0v-1.6M890.4 205.6v1.6M890.4 226.3v-1.6M922.4 179.6v1.6M922.4 201.0v-1.6M922.4 205.6v1.6M922.4 226.3v-1.6M954.5 179.6v1.6M954.5 201.0v-1.6M954.5 205.6v1.6M954.5 226.3v-1.6M986.5 190.3h-1.6M986.5 215.9h-1.6" stroke="#777" stroke-width=".5" fill="none"/><text x="761.8" y="232.5" text-anchor="middle">0</text><text x="793.8" y="232.5" text-anchor="middle">0.5</text><text x="825.9" y="232.5" text-anchor="middle">1</text><text x="857.9" y="232.5" text-anchor="middle">1.5</text><text x="889.9" y="232.5" text-anchor="middle">2</text><text x="921.9" y="232.5" text-anchor="middle">2.5</text><text x="954.0" y="232.5" text-anchor="middle">3</text><text x="986.0" y="232.5" text-anchor="middle">3.5</text><text x="873.4" y="239.2" text-anchor="middle">t(ms)</text><text x="760.5" y="181.1" text-anchor="end">200</text><text x="760.5" y="191.8" text-anchor="end">100</text><text x="760.5" y="202.5" text-anchor="end">0</text><text x="760.5" y="207.1" text-anchor="end">5</text><text x="760.5" y="217.4" text-anchor="end">0</text><text x="760.5" y="227.8" text-anchor="end">-5</text><text transform="translate(749.0 190.3) rotate(-90)" text-anchor="middle" font-size="6">G</text><text transform="translate(752.3 215.9) rotate(-90)" text-anchor="middle" font-size="6.2">rad</text><path d="M762.3 194.6L762.9 194.6L763.5 194.6L764.1 196.3L764.7 197.2L765.3 196.6L765.9 196.4L766.5 196.6L767.1 199.1L767.7 198.1L768.3 199.3L768.9 199.1L769.5 197.9L770.1 191.6L770.7 189.7L771.3 185.4L771.9 181.0L772.5 185.5L773.1 188.9L773.7 192.6L774.3 195.2L774.9 196.6L775.5 197.2L776.1 197.1L776.7 198.4L777.3 198.3L777.9 197.4L778.5 200.5L779.1 200.3L779.8 199.4L780.4 199.2L781.0 200.2L781.6 200.5L782.2 198.2L782.8 199.9L783.4 200.6L784.0 199.8L784.6 199.1L785.2 200.2L785.8 199.3L786.4 198.4L787.0 200.6L787.6 198.7L788.2 200.0L788.8 200.1L789.4 200.6L790.0 200.4L790.6 198.2L791.2 199.9L791.8 200.7L792.4 200.2L793.0 200.7L793.6 199.1L794.2 200.1L794.8 200.6L795.4 200.3L796.0 199.2L796.6 200.4L797.2 199.8L797.8 200.6L798.4 199.7L799.0 200.4L799.6 200.5L800.2 200.5L800.8 198.6L801.4 200.5L802.0 199.4L802.6 199.9L803.2 200.6L803.8 200.6L804.4 199.1L805.0 199.7L805.6 200.5L806.2 199.9L806.8 200.2L807.4 199.7L808.0 200.4L808.6 200.4L809.2 199.3L809.8 200.1L810.4 200.4L811.0 199.9L811.6 200.4L812.2 200.4L812.8 199.6L813.4 200.1L814.1 200.5L814.7 199.9L815.3 200.2L815.9 200.0L816.5 199.4L817.1 199.6L817.7 200.0L818.3 200.0L818.9 200.6L819.5 200.2L820.1 200.0L820.7 200.4L821.3 200.6L821.9 200.2L822.5 199.8L823.1 200.6L823.7 200.2L824.3 200.2L824.9 200.7L825.5 200.4L826.1 200.5L826.7 200.1L827.3 200.3L827.9 200.3L828.5 200.4L829.1 200.3L829.7 200.5L830.3 200.5L830.9 200.5L831.5 200.4L832.1 200.5L832.7 200.4L833.3 200.1L833.9 200.3L834.5 200.3L835.1 200.5L835.7 200.5L836.3 200.6L836.9 200.4L837.5 200.4L838.1 200.6L838.7 200.3L839.3 200.6L839.9 200.4L840.5 200.6L841.1 200.6L841.7 200.5L842.3 200.6L842.9 200.5L843.5 200.7L844.1 200.5L844.7 200.5L845.3 200.4L845.9 200.5L846.5 200.7L847.1 200.7L847.7 200.3L848.4 200.4L849.0 200.4L849.6 200.3L850.2 200.6L850.8 200.5L851.4 200.5L852.0 200.6L852.6 200.0L853.2 200.6L853.8 200.0L854.4 200.5L855.0 200.7L855.6 200.6L856.2 200.5L856.8 200.6L857.4 200.5L858.0 200.6L858.6 200.4L859.2 200.7L859.8 200.5L860.4 200.4L861.0 200.5L861.6 200.3L862.2 200.4L862.8 199.8L863.4 200.6L864.0 200.4L864.6 200.5L865.2 200.3L865.8 200.6L866.4 200.3L867.0 200.6L867.6 200.7L868.2 200.6L868.8 200.6L869.4 199.5L870.0 200.4L870.6 199.9L871.2 199.9L871.8 199.6L872.4 200.2L873.0 199.8L873.6 199.9L874.2 199.9L874.8 200.2L875.4 200.4L876.0 200.5L876.6 200.3L877.2 200.1L877.8 200.4L878.4 200.1L879.0 198.9L879.6 200.6L880.2 199.8L880.8 200.6L881.4 200.1L882.0 200.0L882.6 199.8L883.3 198.7L883.9 200.4L884.5 199.2L885.1 200.5L885.7 199.1L886.3 199.1L886.9 200.6L887.5 200.5L888.1 199.5L888.7 198.6L889.3 200.0L889.9 200.1L890.5 200.3L891.1 198.9L891.7 199.9L892.3 200.4L892.9 199.3L893.5 198.8L894.1 199.9L894.7 200.5L895.3 200.5L895.9 200.6L896.5 200.4L897.1 199.5L897.7 199.5L898.3 198.9L898.9 196.9L899.5 199.6L900.1 200.0L900.7 199.2L901.3 198.7L901.9 199.8L902.5 199.3L903.1 199.4L903.7 200.7L904.3 198.8L904.9 200.0L905.5 200.4L906.1 198.3L906.7 199.3L907.3 199.5L907.9 198.4L908.5 199.4L909.1 199.6L909.7 196.8L910.3 197.9L910.9 194.6L911.5 199.6L912.1 198.6L912.7 200.2L913.3 198.4L913.9 196.9L914.5 197.6L915.1 199.3L915.7 199.7L916.3 198.1L916.9 200.0L917.6 197.3L918.2 199.0L918.8 198.5L919.4 199.1L920.0 197.8L920.6 195.4L921.2 197.5L921.8 200.5L922.4 198.1L923.0 200.3L923.6 198.7L924.2 200.4L924.8 199.4L925.4 199.9L926.0 198.1L926.6 198.1L927.2 200.4L927.8 197.6L928.4 200.3L929.0 200.2L929.6 199.2L930.2 199.9L930.8 199.5L931.4 198.4L932.0 200.5L932.6 197.7L933.2 199.0L933.8 199.9L934.4 199.6L935.0 200.2L935.6 200.3L936.2 199.5L936.8 200.2L937.4 199.0L938.0 200.0L938.6 199.6L939.2 199.1L939.8 200.1L940.4 199.9L941.0 199.6L941.6 200.2L942.2 199.3L942.8 199.6L943.4 200.2L944.0 200.0L944.6 198.5L945.2 200.0L945.8 200.4L946.4 199.5L947.0 199.0L947.6 200.3L948.2 199.4L948.8 197.7L949.4 198.6L950.0 199.4L950.6 199.2L951.2 200.2L951.9 200.3L952.5 199.5L953.1 200.6L953.7 200.3L954.3 199.9L954.9 199.4L955.5 200.3L956.1 200.3L956.7 199.1L957.3 199.8L957.9 199.5L958.5 200.5L959.1 198.7L959.7 200.5L960.3 200.5L960.9 200.0" fill="none" stroke="#2278bd" stroke-width=".5" stroke-opacity=".9"/><path d="M764.2 218.7L764.7 210.7L765.5 221.0L766.2 212.0L767.0 211.2L767.3 220.7L767.3 220.7L767.7 211.7L768.1 220.7L768.4 210.4L768.6 222.0L768.9 211.1L769.1 220.5L769.3 210.0L769.6 220.4L770.9 211.8L771.5 221.4L772.4 212.8L772.7 221.4L774.0 219.5L774.0 219.5L774.4 212.7L774.5 221.7L774.7 211.0L775.0 221.3L775.2 212.6L775.7 220.6L776.4 210.1L776.7 222.1L777.7 222.4L778.4 220.6L778.4 220.6L778.8 210.7L778.9 221.0L779.2 210.1L779.8 210.4L781.0 220.5L782.1 220.6L782.6 211.2L782.9 217.7L784.1 222.4L784.8 213.7L785.9 220.2L787.4 220.9L788.5 213.6L789.7 211.6L790.7 222.3L790.7 222.3L791.0 210.5L791.3 220.1L791.6 210.0L792.6 222.2L793.8 213.5L794.6 221.0L795.8 210.5L796.7 210.2L797.7 222.3L799.1 222.4L800.4 220.8L801.6 212.2L802.5 220.9L803.4 219.4L803.4 219.4L803.8 212.3L804.0 221.7L804.4 209.8L804.7 222.4L804.9 210.2L805.7 220.2L806.7 210.5L807.3 211.4L808.6 221.0L809.2 214.2L809.8 210.4L811.0 222.0L811.8 212.0L812.3 218.5L813.6 219.2L814.1 211.8L814.1 211.8L814.4 219.4L814.7 212.3L814.8 220.8L815.2 209.5L815.4 221.0L815.7 211.4L817.6 209.8L818.1 217.8L818.5 218.5L819.3 210.9L821.0 209.5L822.0 222.1L822.5 212.8L823.3 222.1L824.0 210.2L824.5 221.1L825.1 218.9L826.3 214.2L826.8 213.2L828.2 211.1L829.3 220.5L829.8 212.7L830.3 219.9L831.3 213.6L831.3 213.6L831.5 221.8L831.7 212.6L832.1 221.6L832.3 209.7L832.7 219.3L832.8 212.1L833.2 220.2L833.5 211.3L834.2 218.3L835.4 219.5L836.1 213.5L837.4 213.0L838.4 221.9L839.0 212.0L839.6 218.6L841.5 216.1L841.9 211.8L842.6 209.5L843.5 219.7L844.5 212.1L845.6 213.2L845.6 213.2L845.7 221.0L846.0 210.2L846.2 219.3L846.4 211.2L846.7 221.1L846.9 210.9L847.6 221.2L849.2 222.4L850.4 210.2L851.6 217.7L852.4 212.5L853.9 214.8L855.2 219.9L856.2 222.0L857.4 210.3L858.7 209.5L859.4 210.5L859.9 210.8L860.8 212.6L861.2 220.6L862.5 211.6L862.5 211.6L862.8 219.9L863.0 211.3L863.2 220.2L863.4 211.9L863.6 221.6L863.8 209.8L864.1 219.8L864.5 211.5L864.5 211.5L864.9 220.5L865.2 211.5L865.4 220.2L865.8 211.4L866.1 222.2L866.4 212.7L866.6 222.2L866.8 210.7L867.5 217.9L868.3 219.3L869.0 209.5L869.0 209.5L869.2 221.2L869.5 211.9L869.7 221.2L870.9 212.2L871.9 219.1L873.1 211.4L873.9 218.9L874.3 213.6L875.2 209.8L876.2 221.2L877.2 212.1L878.0 219.5L878.7 210.0L879.0 221.6L879.8 213.4L881.7 213.9L882.3 219.7L882.8 210.0L883.7 217.7L884.1 211.7L885.1 219.7L886.3 213.2L887.3 214.9L888.4 220.9L890.0 220.8L891.2 219.5L893.0 218.5L893.3 210.1L894.5 209.6L895.6 209.5L897.0 209.5L897.8 219.8L898.8 220.8L899.4 212.4L900.7 210.7L901.3 218.5L902.2 211.5L902.8 222.1L904.6 220.4L905.8 212.2L905.8 212.2L906.0 222.1L906.3 211.8L906.6 221.9L907.0 212.0L907.3 219.8L908.1 213.2L909.3 220.7L910.0 213.4L911.2 221.3L912.2 210.9L912.9 219.4L913.4 212.8L914.0 219.0L915.9 219.0L917.0 211.8L917.7 221.9L918.1 211.6L919.2 220.7L919.5 214.2L921.3 214.0L922.3 220.8L923.1 211.9L923.9 220.7L925.0 220.4L926.1 213.5L927.3 218.7L928.0 212.0L929.5 211.3L930.1 218.3L930.5 219.5L931.5 219.1L931.9 212.4L933.7 212.0L934.3 220.6L934.3 220.6L934.6 211.8L934.9 220.1L935.3 211.2L935.6 220.4L936.0 211.8L936.2 221.7L936.3 211.6L937.6 212.7L938.3 220.2L938.8 214.0L939.6 214.7L940.4 212.1L941.5 217.7L942.0 218.8L943.2 220.7L943.9 219.1L944.6 210.8L946.4 212.2L947.2 218.7L947.8 210.9L948.8 210.4L949.3 220.6L950.6 222.4L951.6 213.0L952.5 220.8L952.9 212.4L953.5 221.7L954.4 213.8L955.4 212.7L956.5 219.0L957.6 212.6L958.5 220.6L959.3 218.5L960.3 210.4" fill="none" stroke="#2278bd" stroke-width=".5" stroke-opacity=".9"/></g><g transform="translate(0.0 0)"><g fill="none" stroke="#6f6f6f" stroke-width=".55"><rect x="762.3" y="246.8" width="224.2" height="21.7"/><rect x="762.3" y="274.6" width="224.2" height="20.9"/></g><path d="M794.3 246.8v1.6M794.3 268.5v-1.6M794.3 274.6v1.6M794.3 295.5v-1.6M826.4 246.8v1.6M826.4 268.5v-1.6M826.4 274.6v1.6M826.4 295.5v-1.6M858.4 246.8v1.6M858.4 268.5v-1.6M858.4 274.6v1.6M858.4 295.5v-1.6M890.4 246.8v1.6M890.4 268.5v-1.6M890.4 274.6v1.6M890.4 295.5v-1.6M922.4 246.8v1.6M922.4 268.5v-1.6M922.4 274.6v1.6M922.4 295.5v-1.6M954.5 246.8v1.6M954.5 268.5v-1.6M954.5 274.6v1.6M954.5 295.5v-1.6M986.5 257.6h-1.6M986.5 285.1h-1.6" stroke="#777" stroke-width=".5" fill="none"/><text x="761.8" y="301.9" text-anchor="middle">0</text><text x="793.8" y="301.9" text-anchor="middle">0.5</text><text x="825.9" y="301.9" text-anchor="middle">1</text><text x="857.9" y="301.9" text-anchor="middle">1.5</text><text x="889.9" y="301.9" text-anchor="middle">2</text><text x="921.9" y="301.9" text-anchor="middle">2.5</text><text x="954.0" y="301.9" text-anchor="middle">3</text><text x="986.0" y="301.9" text-anchor="middle">3.5</text><text x="873.4" y="308.0" text-anchor="middle">t(ms)</text><text x="760.5" y="248.3" text-anchor="end">200</text><text x="760.5" y="259.1" text-anchor="end">100</text><text x="760.5" y="270.0" text-anchor="end">0</text><text x="760.5" y="276.1" text-anchor="end">5</text><text x="760.5" y="286.6" text-anchor="end">0</text><text x="760.5" y="297.0" text-anchor="end">-5</text><text transform="translate(749.0 257.6) rotate(-90)" text-anchor="middle" font-size="6">G</text><text transform="translate(752.3 285.1) rotate(-90)" text-anchor="middle" font-size="6.2">rad</text><path d="M762.3 262.0L762.9 262.0L763.5 262.0L764.1 266.5L764.7 267.3L765.3 267.5L765.9 267.6L766.5 265.3L767.1 264.8L767.7 260.6L768.3 258.6L768.9 258.7L769.5 259.7L770.1 263.1L770.7 263.9L771.3 261.8L771.9 258.0L772.5 254.7L773.1 251.6L773.7 254.0L774.3 258.5L774.9 261.9L775.5 263.7L776.1 267.2L776.7 267.4L777.3 267.0L777.9 267.7L778.5 268.0L779.1 268.1L779.8 266.8L780.4 266.6L781.0 267.1L781.6 267.0L782.2 267.5L782.8 266.8L783.4 268.0L784.0 267.4L784.6 268.0L785.2 268.0L785.8 267.4L786.4 267.5L787.0 267.8L787.6 268.1L788.2 265.6L788.8 267.8L789.4 267.8L790.0 267.5L790.6 268.1L791.2 267.5L791.8 268.0L792.4 267.8L793.0 267.6L793.6 267.7L794.2 267.1L794.8 267.7L795.4 267.7L796.0 268.0L796.6 267.9L797.2 267.7L797.8 267.3L798.4 268.1L799.0 267.6L799.6 267.8L800.2 267.2L800.8 267.9L801.4 267.7L802.0 268.1L802.6 268.0L803.2 268.1L803.8 267.9L804.4 268.1L805.0 267.3L805.6 268.0L806.2 267.9L806.8 267.8L807.4 267.9L808.0 267.9L808.6 267.9L809.2 267.9L809.8 268.1L810.4 268.2L811.0 268.1L811.6 268.1L812.2 268.1L812.8 267.9L813.4 267.9L814.1 267.9L814.7 267.9L815.3 268.0L815.9 268.1L816.5 268.1L817.1 268.1L817.7 267.8L818.3 268.0L818.9 268.1L819.5 268.1L820.1 267.8L820.7 268.1L821.3 268.1L821.9 268.1L822.5 268.2L823.1 268.1L823.7 268.1L824.3 268.2L824.9 268.0L825.5 268.1L826.1 268.0L826.7 268.1L827.3 268.0L827.9 268.1L828.5 267.9L829.1 268.1L829.7 268.1L830.3 267.9L830.9 267.9L831.5 268.1L832.1 267.8L832.7 268.1L833.3 268.2L833.9 267.9L834.5 268.2L835.1 267.9L835.7 267.6L836.3 267.5L836.9 267.5L837.5 268.1L838.1 268.0L838.7 267.8L839.3 267.9L839.9 268.0L840.5 267.6L841.1 267.7L841.7 268.0L842.3 267.5L842.9 267.4L843.5 267.8L844.1 267.7L844.7 268.1L845.3 267.8L845.9 267.7L846.5 267.5L847.1 268.0L847.7 267.4L848.4 267.6L849.0 267.3L849.6 267.5L850.2 267.8L850.8 267.3L851.4 267.4L852.0 267.4L852.6 267.8L853.2 267.7L853.8 267.0L854.4 266.8L855.0 267.8L855.6 267.6L856.2 267.8L856.8 268.0L857.4 267.5L858.0 266.3L858.6 267.2L859.2 268.2L859.8 267.5L860.4 268.0L861.0 266.8L861.6 267.4L862.2 266.8L862.8 268.1L863.4 267.8L864.0 267.8L864.6 268.1L865.2 267.6L865.8 267.5L866.4 267.3L867.0 266.0L867.6 267.9L868.2 267.4L868.8 268.1L869.4 268.0L870.0 268.0L870.6 266.4L871.2 266.7L871.8 267.5L872.4 268.1L873.0 267.8L873.6 268.0L874.2 267.5L874.8 265.6L875.4 268.0L876.0 268.1L876.6 267.4L877.2 268.0L877.8 268.0L878.4 266.9L879.0 265.8L879.6 268.1L880.2 267.4L880.8 266.6L881.4 266.5L882.0 267.8L882.6 266.8L883.3 268.0L883.9 266.3L884.5 267.8L885.1 267.4L885.7 267.0L886.3 267.7L886.9 267.8L887.5 267.4L888.1 266.1L888.7 267.2L889.3 266.4L889.9 266.9L890.5 267.6L891.1 266.8L891.7 266.7L892.3 266.4L892.9 266.1L893.5 266.3L894.1 267.8L894.7 267.6L895.3 267.4L895.9 268.0L896.5 266.2L897.1 267.1L897.7 266.8L898.3 265.3L898.9 267.1L899.5 267.6L900.1 267.5L900.7 267.3L901.3 267.8L901.9 267.7L902.5 265.0L903.1 267.6L903.7 265.3L904.3 267.6L904.9 264.9L905.5 267.5L906.1 267.3L906.7 266.9L907.3 265.8L907.9 267.9L908.5 266.3L909.1 265.7L909.7 267.5L910.3 267.8L910.9 264.6L911.5 265.3L912.1 266.9L912.7 267.0L913.3 265.6L913.9 267.0L914.5 266.8L915.1 265.3L915.7 268.0L916.3 266.2L916.9 267.5L917.6 266.5L918.2 267.7L918.8 266.1L919.4 267.6L920.0 264.7L920.6 267.2L921.2 267.6L921.8 266.8L922.4 267.1L923.0 267.5L923.6 267.2L924.2 267.3L924.8 267.8L925.4 268.1L926.0 267.3L926.6 265.3L927.2 267.6L927.8 268.0L928.4 266.5L929.0 266.3L929.6 265.3L930.2 266.4L930.8 268.0L931.4 267.7L932.0 268.0L932.6 267.2L933.2 266.8L933.8 266.7L934.4 267.6L935.0 266.6L935.6 267.4L936.2 268.1L936.8 268.1L937.4 267.0L938.0 267.3L938.6 268.0L939.2 266.5L939.8 268.1L940.4 267.7L941.0 267.5L941.6 267.6L942.2 267.1L942.8 266.3L943.4 267.8L944.0 268.1L944.6 267.4L945.2 268.1L945.8 268.0L946.4 267.3L947.0 268.1L947.6 267.9L948.2 267.3L948.8 267.6L949.4 267.9L950.0 267.1L950.6 266.7L951.2 267.4L951.9 267.3L952.5 267.6L953.1 267.3L953.7 268.2L954.3 265.5L954.9 268.1L955.5 267.6L956.1 268.0L956.7 268.1L957.3 267.3L957.9 268.1L958.5 268.0L959.1 268.2L959.7 268.0L960.3 267.9L960.9 267.3" fill="none" stroke="#2278bd" stroke-width=".5" stroke-opacity=".9"/><path d="M764.2 284.2L765.7 281.9L767.0 287.8L767.8 281.6L768.7 287.4L769.3 279.6L770.0 291.3L770.5 281.0L771.4 291.0L771.9 279.8L773.1 287.0L773.5 291.6L774.6 279.6L776.1 278.9L777.1 288.1L778.6 285.9L779.4 279.5L780.3 288.4L780.9 283.1L782.1 280.5L782.8 278.5L783.8 291.1L784.8 281.4L785.6 281.0L786.9 282.2L787.3 291.4L788.2 278.9L788.9 288.5L790.5 287.5L791.4 285.8L792.5 280.3L792.8 287.9L792.8 287.9L793.2 279.8L793.5 288.9L793.6 279.9L793.8 291.2L794.1 281.3L794.5 290.4L795.5 281.8L796.5 288.7L797.2 283.1L797.2 283.1L797.6 290.8L797.9 278.7L798.2 289.3L798.5 280.5L798.7 288.7L799.0 280.1L799.2 289.4L799.4 278.9L800.2 278.6L801.0 290.7L801.0 290.7L801.4 279.3L801.6 289.1L801.8 281.5L802.1 290.4L802.3 278.5L802.4 288.5L802.7 281.7L803.1 288.8L803.5 282.6L804.3 280.5L804.3 280.5L804.6 289.7L805.0 278.8L805.3 288.9L805.5 279.7L805.8 291.3L806.0 281.1L806.3 289.5L806.4 281.8L806.6 289.0L807.2 281.3L809.1 281.3L810.9 281.4L811.6 279.1L812.0 287.2L812.9 288.4L813.5 278.7L814.6 290.5L816.2 291.6L816.7 281.3L818.3 280.3L818.7 291.2L819.4 280.9L820.5 281.1L821.4 289.9L822.6 281.7L823.5 287.7L823.5 287.7L823.8 281.1L824.2 288.3L824.3 278.9L824.6 288.7L825.0 280.0L825.7 280.0L826.9 289.1L828.1 282.3L829.0 281.2L829.4 288.0L829.4 288.0L829.8 279.2L829.9 289.3L830.2 280.9L830.5 291.6L830.7 280.5L831.1 288.7L831.4 279.2L832.2 287.9L833.8 286.9L835.2 285.3L835.6 291.2L836.5 281.8L837.8 288.3L837.8 288.3L838.0 280.3L838.3 289.5L838.5 278.9L838.7 291.5L838.9 279.1L839.3 290.5L839.6 281.0L839.9 289.4L840.3 278.5L841.1 279.2L842.0 288.5L842.5 280.1L844.0 278.5L845.0 279.4L846.1 279.7L847.1 280.4L847.7 289.3L848.3 282.0L849.2 287.3L850.5 288.9L850.5 288.9L850.7 280.1L850.9 289.4L851.2 281.2L851.5 288.8L852.0 281.8L853.4 283.8L854.5 285.3L855.6 284.7L855.6 284.7L855.9 288.3L856.2 280.4L856.5 289.0L856.9 279.8L857.1 290.2L857.2 279.0L857.9 288.6L859.6 287.9L860.8 280.6L862.7 280.9L863.4 287.0L864.4 290.3L865.4 283.2L865.8 279.4L866.9 287.1L867.5 291.0L868.0 279.3L868.8 290.9L869.5 289.2L870.5 283.1L870.8 289.7L871.7 290.8L872.8 282.1L873.5 289.2L874.7 281.9L875.6 280.1L876.4 287.0L877.4 279.9L878.0 291.3L879.0 279.9L879.6 282.4L880.2 280.8L880.7 288.9L881.6 278.6L882.1 290.3L883.3 282.5L884.4 287.4L885.0 287.4L885.7 286.2L886.5 279.3L887.5 290.5L888.1 281.1L888.6 287.0L889.7 285.9L890.2 291.3L891.2 281.2L892.7 279.7L893.6 280.7L894.8 287.8L896.1 282.2L896.7 287.5L897.2 288.4L897.9 281.7L897.9 281.7L898.2 291.3L898.4 280.1L898.7 290.8L899.0 281.6L899.2 290.2L899.8 282.7L900.6 281.0L902.0 283.3L903.8 284.1L904.5 288.3L905.2 281.8L906.3 290.8L907.8 291.0L908.5 282.6L908.5 282.6L908.8 288.5L909.0 279.9L909.2 290.5L909.8 278.8L911.0 278.5L912.2 287.2L913.0 281.4L913.9 287.9L913.9 287.9L914.1 281.2L914.3 288.6L914.7 280.2L914.9 291.4L915.2 280.0L915.7 290.4L916.4 283.2L916.8 280.2L917.4 287.8L919.1 287.7L920.0 289.9L921.1 282.3L921.5 288.2L922.3 287.7L923.4 278.8L923.4 278.8L923.7 290.7L923.8 280.7L924.0 288.9L924.4 278.5L924.7 289.9L925.0 279.3L925.3 290.3L925.6 281.6L926.0 288.7L926.5 279.7L928.3 278.5L929.9 278.5L931.0 288.9L931.9 287.0L933.8 286.8L934.9 279.5L935.8 289.6L937.6 289.2L939.1 291.5L940.1 280.3L941.4 288.6L942.4 280.1L943.2 291.1L944.1 281.9L945.3 280.0L945.7 288.2L946.4 283.0L946.8 288.7L947.6 279.9L948.0 290.7L949.1 283.2L949.6 281.2L950.7 288.4L951.6 286.1L952.9 291.0L954.0 283.3L955.1 289.4L955.5 281.7L956.3 290.9L957.5 278.8L958.4 287.1L959.4 281.1L960.2 288.6" fill="none" stroke="#2278bd" stroke-width=".5" stroke-opacity=".9"/></g><g transform="translate(0.0 0)"><g fill="none" stroke="#6f6f6f" stroke-width=".55"><rect x="762.3" y="316.3" width="224.2" height="20.9"/><rect x="762.3" y="343.0" width="224.2" height="21.4"/></g><path d="M794.3 316.3v1.6M794.3 337.2v-1.6M794.3 343.0v1.6M794.3 364.4v-1.6M826.4 316.3v1.6M826.4 337.2v-1.6M826.4 343.0v1.6M826.4 364.4v-1.6M858.4 316.3v1.6M858.4 337.2v-1.6M858.4 343.0v1.6M858.4 364.4v-1.6M890.4 316.3v1.6M890.4 337.2v-1.6M890.4 343.0v1.6M890.4 364.4v-1.6M922.4 316.3v1.6M922.4 337.2v-1.6M922.4 343.0v1.6M922.4 364.4v-1.6M954.5 316.3v1.6M954.5 337.2v-1.6M954.5 343.0v1.6M954.5 364.4v-1.6M986.5 326.8h-1.6M986.5 353.7h-1.6" stroke="#777" stroke-width=".5" fill="none"/><text x="761.8" y="370.5" text-anchor="middle">0</text><text x="793.8" y="370.5" text-anchor="middle">0.5</text><text x="825.9" y="370.5" text-anchor="middle">1</text><text x="857.9" y="370.5" text-anchor="middle">1.5</text><text x="889.9" y="370.5" text-anchor="middle">2</text><text x="921.9" y="370.5" text-anchor="middle">2.5</text><text x="954.0" y="370.5" text-anchor="middle">3</text><text x="986.0" y="370.5" text-anchor="middle">3.5</text><text x="873.4" y="376.8" text-anchor="middle">t(ms)</text><text x="760.5" y="317.8" text-anchor="end">200</text><text x="760.5" y="328.2" text-anchor="end">100</text><text x="760.5" y="338.7" text-anchor="end">0</text><text x="760.5" y="344.5" text-anchor="end">5</text><text x="760.5" y="355.2" text-anchor="end">0</text><text x="760.5" y="365.9" text-anchor="end">-5</text><text transform="translate(749.0 326.8) rotate(-90)" text-anchor="middle" font-size="6">G</text><text transform="translate(752.3 353.7) rotate(-90)" text-anchor="middle" font-size="6.2">rad</text><path d="M762.3 330.9L762.9 330.9L763.5 330.9L764.1 331.4L764.7 329.2L765.3 327.2L765.9 327.3L766.5 329.6L767.1 333.4L767.7 334.8L768.3 335.9L768.9 336.8L769.5 336.7L770.1 336.7L770.7 336.6L771.3 335.6L771.9 336.2L772.5 335.4L773.1 333.5L773.7 330.9L774.3 327.6L774.9 324.9L775.5 325.6L776.1 328.8L776.7 332.2L777.3 335.0L777.9 335.9L778.5 336.3L779.1 336.7L779.8 336.3L780.4 336.8L781.0 336.7L781.6 336.4L782.2 336.2L782.8 336.3L783.4 336.8L784.0 336.4L784.6 336.9L785.2 336.7L785.8 336.4L786.4 336.6L787.0 336.8L787.6 336.7L788.2 336.7L788.8 336.7L789.4 336.8L790.0 336.8L790.6 336.9L791.2 336.7L791.8 336.9L792.4 336.8L793.0 336.8L793.6 336.7L794.2 336.4L794.8 336.8L795.4 336.8L796.0 336.7L796.6 336.8L797.2 336.8L797.8 336.8L798.4 336.7L799.0 336.8L799.6 336.8L800.2 336.7L800.8 336.8L801.4 336.7L802.0 336.9L802.6 336.8L803.2 336.5L803.8 336.5L804.4 336.8L805.0 336.6L805.6 336.6L806.2 336.8L806.8 336.8L807.4 336.9L808.0 336.6L808.6 336.5L809.2 336.8L809.8 336.9L810.4 336.7L811.0 336.5L811.6 336.4L812.2 336.6L812.8 336.8L813.4 336.7L814.1 336.7L814.7 336.9L815.3 336.8L815.9 336.7L816.5 336.5L817.1 336.3L817.7 336.1L818.3 336.9L818.9 336.6L819.5 336.4L820.1 336.6L820.7 336.9L821.3 336.2L821.9 336.1L822.5 336.4L823.1 336.5L823.7 336.6L824.3 336.0L824.9 335.7L825.5 336.3L826.1 336.2L826.7 336.8L827.3 336.3L827.9 335.9L828.5 336.5L829.1 336.5L829.7 336.3L830.3 336.7L830.9 336.3L831.5 336.3L832.1 335.5L832.7 336.0L833.3 336.7L833.9 336.1L834.5 335.4L835.1 336.4L835.7 336.3L836.3 336.1L836.9 336.5L837.5 335.2L838.1 336.9L838.7 336.3L839.3 335.8L839.9 335.9L840.5 336.2L841.1 336.6L841.7 335.0L842.3 336.4L842.9 335.0L843.5 336.0L844.1 335.6L844.7 336.9L845.3 335.6L845.9 335.0L846.5 335.5L847.1 336.8L847.7 334.8L848.4 335.5L849.0 335.0L849.6 335.7L850.2 335.5L850.8 336.4L851.4 335.3L852.0 336.8L852.6 336.4L853.2 335.1L853.8 335.5L854.4 336.8L855.0 336.0L855.6 336.8L856.2 336.3L856.8 335.3L857.4 333.8L858.0 336.5L858.6 335.7L859.2 336.7L859.8 336.4L860.4 336.3L861.0 335.9L861.6 335.0L862.2 336.8L862.8 336.2L863.4 336.1L864.0 335.6L864.6 336.4L865.2 334.6L865.8 336.1L866.4 334.5L867.0 336.3L867.6 336.2L868.2 336.3L868.8 336.1L869.4 336.0L870.0 336.1L870.6 335.4L871.2 336.4L871.8 334.6L872.4 336.3L873.0 334.5L873.6 336.3L874.2 335.4L874.8 334.7L875.4 336.5L876.0 335.4L876.6 336.6L877.2 336.5L877.8 336.7L878.4 335.5L879.0 335.5L879.6 335.8L880.2 336.3L880.8 335.3L881.4 336.8L882.0 336.5L882.6 334.6L883.3 334.8L883.9 336.8L884.5 335.9L885.1 336.6L885.7 336.5L886.3 336.9L886.9 336.3L887.5 336.8L888.1 335.4L888.7 336.4L889.3 336.6L889.9 335.8L890.5 336.5L891.1 336.4L891.7 336.2L892.3 336.4L892.9 336.4L893.5 335.5L894.1 335.9L894.7 336.8L895.3 336.5L895.9 335.6L896.5 336.7L897.1 336.3L897.7 335.7L898.3 336.4L898.9 335.6L899.5 336.7L900.1 335.3L900.7 336.4L901.3 336.7L901.9 335.8L902.5 336.5L903.1 336.7L903.7 334.5L904.3 336.7L904.9 336.6L905.5 335.3L906.1 336.8L906.7 335.8L907.3 336.1L907.9 335.6L908.5 336.0L909.1 336.8L909.7 336.3L910.3 336.7L910.9 335.5L911.5 335.2L912.1 336.5L912.7 335.9L913.3 336.5L913.9 336.6L914.5 336.0L915.1 335.5L915.7 334.1L916.3 336.4L916.9 335.5L917.6 336.0L918.2 335.3L918.8 336.6L919.4 336.6L920.0 336.6L920.6 336.0L921.2 336.5L921.8 336.7L922.4 336.3L923.0 335.1L923.6 336.7L924.2 336.4L924.8 335.0L925.4 336.0L926.0 336.8L926.6 336.8L927.2 336.1L927.8 336.3L928.4 335.5L929.0 336.8L929.6 336.8L930.2 336.7L930.8 335.9L931.4 336.8L932.0 336.8L932.6 336.2L933.2 335.7L933.8 336.7L934.4 336.8L935.0 336.2L935.6 336.3L936.2 336.3L936.8 336.6L937.4 335.8L938.0 335.8L938.6 335.8L939.2 336.8L939.8 336.7L940.4 336.3L941.0 336.2L941.6 336.4L942.2 336.0L942.8 336.2L943.4 336.5L944.0 336.5L944.6 335.8L945.2 336.6L945.8 336.0L946.4 335.9L947.0 336.6L947.6 336.8L948.2 336.8L948.8 336.6L949.4 336.0L950.0 336.7L950.6 336.2L951.2 335.6L951.9 336.8L952.5 335.5L953.1 336.5L953.7 335.8L954.3 335.5L954.9 335.1L955.5 336.6L956.1 336.7L956.7 336.7L957.3 333.7L957.9 336.7L958.5 335.8L959.1 336.4L959.7 334.8L960.3 335.6L960.9 335.5" fill="none" stroke="#2278bd" stroke-width=".5" stroke-opacity=".9"/><path d="M764.2 357.7L765.3 347.1L765.3 347.1L765.7 360.2L766.0 350.3L766.1 358.4L767.3 349.6L768.0 347.6L768.9 358.1L770.1 349.4L770.5 359.8L770.5 359.8L770.8 348.7L771.0 359.7L771.2 348.6L771.5 356.9L771.8 347.6L772.1 357.3L772.3 349.0L772.5 358.8L773.6 348.3L774.7 350.4L775.1 359.2L776.2 347.1L776.2 347.1L776.5 359.3L776.9 349.1L777.1 358.9L777.7 357.6L777.7 357.6L778.0 350.4L778.3 358.4L778.6 347.2L779.5 348.5L779.9 357.0L780.9 347.1L782.6 347.0L783.5 347.0L783.8 357.5L785.0 347.5L786.1 359.3L787.3 357.8L788.0 347.9L788.8 357.3L790.1 359.0L791.3 349.3L792.3 360.0L793.1 360.4L793.4 347.4L794.7 359.0L795.7 349.8L796.7 359.1L797.1 350.7L797.6 356.5L799.0 355.7L799.6 359.2L799.9 351.7L800.9 358.6L802.1 349.4L803.9 349.7L804.9 357.4L806.0 347.0L807.0 347.2L808.1 357.4L808.7 350.9L809.9 358.5L810.9 351.5L811.4 348.4L812.7 355.9L813.2 358.6L814.4 351.9L815.4 349.6L815.9 359.4L816.4 349.4L817.0 359.4L817.5 348.2L818.2 356.5L819.0 348.8L820.4 351.1L821.0 352.4L821.8 356.7L822.6 350.0L823.7 347.9L824.3 356.4L824.9 350.8L825.7 358.0L827.0 348.9L827.6 349.6L828.4 355.7L828.8 350.3L829.6 360.0L830.7 360.4L831.7 351.0L833.0 356.0L833.9 358.4L835.3 356.3L836.2 351.8L837.0 351.0L838.1 357.4L839.3 351.8L839.6 359.2L840.4 348.4L842.2 349.5L843.2 350.5L843.5 355.7L844.1 347.2L845.3 358.0L846.2 347.0L846.8 359.6L847.6 359.8L848.7 360.4L849.0 348.6L850.1 356.2L850.1 356.2L850.4 348.4L850.6 358.3L850.8 349.5L851.0 360.4L851.1 347.8L851.5 357.2L851.8 349.6L852.8 356.2L853.4 355.1L854.6 360.3L855.1 348.2L855.8 355.8L856.6 358.1L857.3 348.6L858.0 358.2L858.7 350.7L860.1 348.4L860.7 360.2L861.3 359.2L861.9 350.9L862.9 351.2L864.7 348.9L865.9 357.0L867.8 359.1L868.3 350.0L869.8 350.6L870.4 357.9L872.2 357.2L873.4 349.4L874.1 358.6L875.0 350.3L875.6 359.2L877.1 358.2L877.7 358.8L878.6 350.5L879.5 356.7L881.2 357.3L881.6 351.2L881.9 357.1L882.5 348.4L883.0 355.4L883.5 357.0L884.3 355.5L884.3 355.5L884.5 347.1L884.7 358.7L884.9 348.8L885.4 355.8L885.9 359.2L886.9 358.0L888.1 351.0L888.6 355.7L888.9 349.9L889.7 355.8L890.7 357.1L891.6 355.6L892.0 348.8L892.4 358.3L893.0 350.8L894.0 358.1L894.0 358.1L894.2 348.7L894.4 358.5L894.8 347.0L894.9 357.4L895.2 349.3L895.5 359.4L895.7 348.7L896.0 358.0L896.4 350.8L896.8 356.6L897.8 348.1L899.0 347.1L899.9 355.8L900.5 349.1L901.1 356.5L902.2 348.4L903.4 357.6L904.1 357.0L904.6 348.8L904.6 348.8L904.9 358.5L905.3 350.2L905.4 358.4L905.8 350.2L906.1 357.9L906.3 350.1L906.6 358.8L907.6 351.1L908.1 357.1L908.5 347.1L909.7 359.1L911.6 359.3L912.3 350.5L913.0 349.3L913.4 360.2L914.3 360.4L915.6 349.6L916.2 359.7L916.9 348.3L918.0 357.5L918.5 357.1L920.3 356.6L922.0 357.5L923.0 358.7L923.7 350.2L924.9 356.5L926.1 348.8L927.9 350.1L929.4 347.6L930.3 347.0L931.4 357.3L932.0 349.3L933.7 350.1L934.5 348.1L935.9 347.0L937.1 355.7L937.8 347.2L939.0 359.2L939.6 359.9L940.8 347.5L940.8 347.5L941.1 357.1L941.3 348.9L941.5 360.3L941.8 347.3L942.0 359.5L942.6 359.1L943.5 347.8L944.6 357.5L945.3 350.9L946.3 360.2L946.6 347.4L947.6 357.6L948.5 351.5L949.5 350.0L950.6 359.1L951.8 347.6L952.9 357.3L953.8 358.8L954.3 348.3L955.3 357.9L956.5 347.2L957.0 359.4L958.6 359.1L960.4 359.8" fill="none" stroke="#2278bd" stroke-width=".5" stroke-opacity=".9"/></g><g transform="translate(0.0 0)"><g fill="none" stroke="#6f6f6f" stroke-width=".55"><rect x="762.3" y="380.6" width="224.2" height="21.3"/><rect x="762.3" y="405.0" width="224.2" height="20.9"/></g><path d="M794.3 380.6v1.6M794.3 401.9v-1.6M794.3 405.0v1.6M794.3 425.9v-1.6M826.4 380.6v1.6M826.4 401.9v-1.6M826.4 405.0v1.6M826.4 425.9v-1.6M858.4 380.6v1.6M858.4 401.9v-1.6M858.4 405.0v1.6M858.4 425.9v-1.6M890.4 380.6v1.6M890.4 401.9v-1.6M890.4 405.0v1.6M890.4 425.9v-1.6M922.4 380.6v1.6M922.4 401.9v-1.6M922.4 405.0v1.6M922.4 425.9v-1.6M954.5 380.6v1.6M954.5 401.9v-1.6M954.5 405.0v1.6M954.5 425.9v-1.6M986.5 391.2h-1.6M986.5 415.4h-1.6" stroke="#777" stroke-width=".5" fill="none"/><text x="761.8" y="432.5" text-anchor="middle">0</text><text x="793.8" y="432.5" text-anchor="middle">0.5</text><text x="825.9" y="432.5" text-anchor="middle">1</text><text x="857.9" y="432.5" text-anchor="middle">1.5</text><text x="889.9" y="432.5" text-anchor="middle">2</text><text x="921.9" y="432.5" text-anchor="middle">2.5</text><text x="954.0" y="432.5" text-anchor="middle">3</text><text x="986.0" y="432.5" text-anchor="middle">3.5</text><text x="873.4" y="439.5" text-anchor="middle">t(ms)</text><text x="760.5" y="382.1" text-anchor="end">200</text><text x="760.5" y="392.8" text-anchor="end">100</text><text x="760.5" y="403.4" text-anchor="end">0</text><text x="760.5" y="406.5" text-anchor="end">5</text><text x="760.5" y="416.9" text-anchor="end">0</text><text x="760.5" y="427.4" text-anchor="end">-5</text><text transform="translate(749.0 391.2) rotate(-90)" text-anchor="middle" font-size="6">G</text><text transform="translate(752.3 415.4) rotate(-90)" text-anchor="middle" font-size="6.2">rad</text><path d="M762.3 395.5L762.9 395.5L763.5 395.5L764.1 399.8L764.7 397.2L765.3 394.3L765.9 392.0L766.5 392.2L767.1 395.1L767.7 398.0L768.3 400.1L768.9 401.1L769.5 401.5L770.1 401.3L770.7 401.3L771.3 401.6L771.9 401.6L772.5 401.5L773.1 401.1L773.7 400.3L774.3 398.8L774.9 395.5L775.5 391.7L776.1 388.9L776.7 389.2L777.3 392.1L777.9 396.1L778.5 399.1L779.1 400.5L779.8 401.2L780.4 401.5L781.0 401.3L781.6 401.5L782.2 401.4L782.8 401.3L783.4 401.2L784.0 401.1L784.6 401.4L785.2 401.5L785.8 401.5L786.4 401.2L787.0 401.4L787.6 401.5L788.2 401.5L788.8 401.2L789.4 401.5L790.0 401.3L790.6 401.6L791.2 401.6L791.8 401.3L792.4 401.5L793.0 401.4L793.6 401.2L794.2 401.3L794.8 401.5L795.4 401.4L796.0 401.5L796.6 401.4L797.2 401.5L797.8 401.2L798.4 401.3L799.0 401.6L799.6 401.1L800.2 401.5L800.8 401.0L801.4 401.5L802.0 401.0L802.6 401.4L803.2 401.3L803.8 400.9L804.4 401.4L805.0 401.3L805.6 400.7L806.2 401.1L806.8 400.9L807.4 401.4L808.0 401.1L808.6 401.0L809.2 400.9L809.8 400.7L810.4 401.2L811.0 401.3L811.6 400.9L812.2 400.8L812.8 400.0L813.4 401.5L814.1 401.5L814.7 400.8L815.3 400.2L815.9 400.1L816.5 400.8L817.1 401.0L817.7 401.2L818.3 400.4L818.9 400.8L819.5 400.2L820.1 401.0L820.7 401.4L821.3 400.2L821.9 400.1L822.5 401.2L823.1 400.2L823.7 401.1L824.3 400.7L824.9 400.3L825.5 401.1L826.1 401.0L826.7 401.2L827.3 399.7L827.9 399.9L828.5 401.5L829.1 401.3L829.7 401.0L830.3 400.3L830.9 400.4L831.5 401.5L832.1 400.7L832.7 400.9L833.3 398.7L833.9 401.0L834.5 400.6L835.1 400.5L835.7 400.9L836.3 400.5L836.9 399.8L837.5 400.1L838.1 401.5L838.7 400.3L839.3 400.6L839.9 400.8L840.5 400.2L841.1 400.7L841.7 401.4L842.3 400.4L842.9 401.2L843.5 400.9L844.1 401.5L844.7 401.3L845.3 401.4L845.9 401.1L846.5 401.3L847.1 400.9L847.7 401.5L848.4 401.1L849.0 401.4L849.6 399.4L850.2 401.0L850.8 398.7L851.4 400.0L852.0 401.0L852.6 401.1L853.2 401.3L853.8 400.4L854.4 401.0L855.0 400.8L855.6 399.6L856.2 400.8L856.8 400.6L857.4 399.5L858.0 400.2L858.6 401.5L859.2 399.9L859.8 401.2L860.4 401.5L861.0 401.0L861.6 401.4L862.2 399.8L862.8 401.3L863.4 401.2L864.0 401.2L864.6 401.2L865.2 401.0L865.8 400.3L866.4 400.6L867.0 400.6L867.6 401.4L868.2 400.5L868.8 401.4L869.4 401.0L870.0 401.1L870.6 401.3L871.2 399.0L871.8 400.1L872.4 401.5L873.0 401.3L873.6 401.1L874.2 401.1L874.8 400.9L875.4 401.6L876.0 401.3L876.6 400.4L877.2 401.4L877.8 400.8L878.4 401.4L879.0 401.3L879.6 400.7L880.2 400.2L880.8 401.2L881.4 401.1L882.0 401.2L882.6 400.4L883.3 400.7L883.9 400.7L884.5 400.6L885.1 401.3L885.7 401.5L886.3 401.3L886.9 401.1L887.5 401.6L888.1 401.5L888.7 401.3L889.3 400.8L889.9 401.5L890.5 401.6L891.1 401.4L891.7 401.2L892.3 401.3L892.9 401.1L893.5 401.5L894.1 401.2L894.7 400.7L895.3 401.4L895.9 401.2L896.5 401.4L897.1 401.5L897.7 401.3L898.3 401.5L898.9 401.0L899.5 401.4L900.1 401.1L900.7 401.2L901.3 400.9L901.9 401.5L902.5 401.4L903.1 401.6L903.7 401.0L904.3 401.2L904.9 401.3L905.5 401.0L906.1 400.9L906.7 401.3L907.3 399.8L907.9 400.0L908.5 400.7L909.1 401.6L909.7 401.1L910.3 401.5L910.9 400.6L911.5 400.7L912.1 401.0L912.7 400.0L913.3 400.8L913.9 400.4L914.5 400.9L915.1 401.1L915.7 401.2L916.3 400.4L916.9 400.5L917.6 400.4L918.2 401.1L918.8 401.5L919.4 400.3L920.0 401.4L920.6 401.3L921.2 400.3L921.8 401.5L922.4 401.3L923.0 400.4L923.6 401.4L924.2 400.8L924.8 399.8L925.4 400.6L926.0 400.6L926.6 401.6L927.2 400.1L927.8 400.8L928.4 401.5L929.0 400.5L929.6 400.9L930.2 400.8L930.8 400.5L931.4 401.2L932.0 400.3L932.6 400.4L933.2 400.6L933.8 400.3L934.4 398.6L935.0 400.5L935.6 399.8L936.2 401.1L936.8 400.5L937.4 400.4L938.0 401.0L938.6 401.0L939.2 401.5L939.8 401.3L940.4 401.1L941.0 401.5L941.6 400.0L942.2 399.4L942.8 400.2L943.4 401.3L944.0 399.5L944.6 401.2L945.2 401.4L945.8 400.3L946.4 400.8L947.0 401.2L947.6 399.9L948.2 399.6L948.8 400.9L949.4 400.9L950.0 400.2L950.6 401.6L951.2 399.8L951.9 398.6L952.5 398.9L953.1 401.1L953.7 401.6L954.3 398.1L954.9 401.0L955.5 398.1L956.1 398.3L956.7 398.7L957.3 401.3L957.9 399.3L958.5 398.4L959.1 400.9L959.7 400.9L960.3 401.3L960.9 398.9" fill="none" stroke="#2278bd" stroke-width=".5" stroke-opacity=".9"/><path d="M764.2 413.9L765.4 415.3L767.2 413.0L767.9 420.2L768.7 413.1L769.1 410.7L769.7 421.9L770.4 413.3L771.0 420.0L771.5 411.0L772.7 411.9L773.7 412.1L775.2 409.9L775.7 421.7L776.5 420.8L777.1 412.8L778.4 411.8L778.8 418.1L779.8 410.5L780.4 417.7L781.4 420.7L781.4 420.7L781.6 412.0L781.9 421.0L782.2 409.9L783.4 419.9L784.2 421.3L785.3 410.9L786.3 410.0L787.7 412.4L788.8 419.2L789.9 419.1L790.5 421.5L791.3 411.7L792.0 418.9L792.6 409.3L793.1 417.9L793.9 418.6L794.6 411.0L795.0 417.2L795.3 421.7L796.9 422.0L798.0 421.6L799.3 413.6L801.2 415.8L801.7 420.4L802.3 413.4L803.0 419.7L803.5 409.2L804.1 418.6L805.3 417.6L806.5 420.0L808.2 418.8L808.8 419.8L808.8 419.8L809.0 409.9L809.3 420.9L809.6 412.0L809.9 419.3L810.2 412.0L810.4 419.7L810.6 411.6L811.1 419.2L812.3 411.1L813.5 413.1L814.8 418.4L815.1 411.6L815.6 421.5L816.5 411.6L816.5 411.6L816.7 421.9L816.8 409.6L817.1 418.8L817.4 411.1L818.0 420.6L818.5 420.9L819.7 410.2L820.8 417.9L821.9 419.8L822.2 413.8L822.9 408.9L824.6 408.9L825.5 421.9L826.3 421.5L827.0 411.4L827.9 419.6L828.7 412.4L829.6 419.2L830.2 411.2L831.8 410.2L833.0 418.3L833.6 411.9L834.7 420.6L835.3 410.2L835.9 418.9L836.9 410.1L838.0 418.3L838.9 410.5L839.3 418.5L840.5 413.6L841.1 409.7L842.1 417.7L843.2 417.7L843.6 412.8L844.9 419.2L845.3 413.0L845.7 419.4L846.1 412.6L846.8 417.4L847.2 410.9L848.5 419.6L849.6 417.2L850.0 420.9L850.3 413.2L851.7 414.6L852.2 419.1L853.0 417.1L853.9 412.5L854.3 421.3L855.1 412.6L855.6 410.5L856.3 418.7L856.9 411.7L857.7 420.2L858.5 412.3L859.1 412.5L859.9 419.4L860.7 410.8L862.6 412.6L864.1 411.3L865.1 409.4L865.7 408.9L866.2 410.5L867.4 419.3L868.4 412.0L868.9 419.7L869.4 411.1L870.3 421.3L871.3 412.4L872.5 420.6L873.4 409.0L873.8 420.4L875.0 413.7L876.0 418.6L876.7 411.6L877.5 421.0L879.0 421.6L879.0 421.6L879.2 411.2L879.6 420.5L879.7 412.1L880.0 421.4L881.4 420.0L882.7 421.1L883.4 419.9L883.9 412.3L885.7 410.9L887.3 410.0L888.4 417.7L889.4 421.3L889.7 410.8L891.3 408.9L891.7 421.3L892.3 421.2L894.0 421.5L895.1 411.2L895.8 421.5L895.8 421.5L895.9 409.2L896.2 418.8L896.5 411.3L896.9 419.3L897.2 409.0L897.2 409.0L897.3 419.4L897.6 410.4L897.9 419.1L898.7 409.9L899.3 421.8L900.1 420.1L900.7 411.8L901.3 421.8L901.7 411.3L903.4 410.1L904.1 418.1L905.2 417.4L905.7 419.7L907.5 421.1L908.4 412.6L909.4 413.7L910.3 411.4L910.6 419.3L912.3 420.5L913.2 410.8L913.8 420.9L915.2 419.5L916.7 419.8L917.4 421.4L917.8 411.3L918.5 421.4L919.4 412.9L920.2 419.4L921.4 411.3L921.4 411.3L921.7 418.7L921.9 410.5L922.2 419.6L922.5 410.4L922.6 420.2L922.8 409.9L922.9 421.1L923.1 409.3L923.3 418.9L923.8 411.4L924.5 419.4L925.2 418.3L925.8 413.7L927.1 409.8L928.1 417.3L928.9 412.0L929.9 421.1L930.7 410.9L932.4 412.0L933.2 410.4L933.2 410.4L933.4 420.6L933.6 409.4L933.9 421.6L934.2 410.2L934.9 410.3L936.0 420.6L936.9 410.6L937.6 417.2L938.1 419.3L939.2 412.4L940.3 419.8L940.7 410.2L942.2 412.6L942.9 418.0L943.3 411.7L944.6 418.6L945.1 411.6L946.5 412.5L948.1 413.1L949.1 420.3L949.5 409.3L950.2 420.1L950.7 412.9L951.1 421.2L951.1 421.2L951.5 410.8L951.8 420.6L951.9 409.1L952.3 420.6L953.0 413.2L953.0 413.2L953.4 420.8L953.5 410.2L953.8 421.9L954.1 411.2L955.0 421.9L955.4 412.3L956.2 419.2L957.4 409.7L958.2 418.5L958.2 418.5L958.4 411.3L958.8 418.9L958.9 411.5L959.3 420.3L959.6 410.9L960.0 421.9L960.8 419.7" fill="none" stroke="#2278bd" stroke-width=".5" stroke-opacity=".9"/></g><g transform="translate(-1.6 0)"><g fill="none" stroke="#6f6f6f" stroke-width=".55"><rect x="762.3" y="451.3" width="224.2" height="21.7"/><rect x="762.3" y="477.0" width="224.2" height="21.0"/></g><path d="M794.3 451.3v1.6M794.3 473.0v-1.6M794.3 477.0v1.6M794.3 498.0v-1.6M826.4 451.3v1.6M826.4 473.0v-1.6M826.4 477.0v1.6M826.4 498.0v-1.6M858.4 451.3v1.6M858.4 473.0v-1.6M858.4 477.0v1.6M858.4 498.0v-1.6M890.4 451.3v1.6M890.4 473.0v-1.6M890.4 477.0v1.6M890.4 498.0v-1.6M922.4 451.3v1.6M922.4 473.0v-1.6M922.4 477.0v1.6M922.4 498.0v-1.6M954.5 451.3v1.6M954.5 473.0v-1.6M954.5 477.0v1.6M954.5 498.0v-1.6M986.5 462.1h-1.6M986.5 487.5h-1.6" stroke="#777" stroke-width=".5" fill="none"/><text x="761.8" y="504.5" text-anchor="middle">0</text><text x="793.8" y="504.5" text-anchor="middle">0.5</text><text x="825.9" y="504.5" text-anchor="middle">1</text><text x="857.9" y="504.5" text-anchor="middle">1.5</text><text x="889.9" y="504.5" text-anchor="middle">2</text><text x="921.9" y="504.5" text-anchor="middle">2.5</text><text x="954.0" y="504.5" text-anchor="middle">3</text><text x="986.0" y="504.5" text-anchor="middle">3.5</text><text x="873.4" y="511.0" text-anchor="middle">t(ms)</text><text x="760.5" y="452.8" text-anchor="end">200</text><text x="760.5" y="463.6" text-anchor="end">100</text><text x="760.5" y="474.5" text-anchor="end">0</text><text x="760.5" y="478.5" text-anchor="end">5</text><text x="760.5" y="489.0" text-anchor="end">0</text><text x="760.5" y="499.5" text-anchor="end">-5</text><text transform="translate(749.0 462.1) rotate(-90)" text-anchor="middle" font-size="6">G</text><text transform="translate(752.3 487.5) rotate(-90)" text-anchor="middle" font-size="6.2">rad</text><path d="M762.3 466.5L762.9 466.5L763.5 466.5L764.1 470.3L764.7 466.9L765.3 462.5L765.9 459.7L766.5 460.3L767.1 463.7L767.7 468.0L768.3 470.8L768.9 471.7L769.5 472.5L770.1 472.3L770.7 472.4L771.3 472.4L771.9 472.4L772.5 472.4L773.1 472.2L773.7 472.4L774.3 472.6L774.9 472.1L775.5 471.9L776.1 470.3L776.7 468.0L777.3 464.7L777.9 461.6L778.5 461.7L779.1 463.8L779.8 467.0L780.4 470.0L781.0 471.3L781.6 471.2L782.2 471.6L782.8 472.4L783.4 472.0L784.0 472.6L784.6 472.4L785.2 472.3L785.8 472.6L786.4 471.6L787.0 471.4L787.6 472.2L788.2 472.3L788.8 472.3L789.4 472.5L790.0 471.8L790.6 472.4L791.2 471.9L791.8 472.2L792.4 471.1L793.0 471.9L793.6 471.6L794.2 472.4L794.8 472.2L795.4 472.1L796.0 472.4L796.6 472.4L797.2 472.3L797.8 471.8L798.4 471.3L799.0 472.3L799.6 470.7L800.2 471.7L800.8 470.8L801.4 472.4L802.0 471.9L802.6 472.5L803.2 472.6L803.8 471.6L804.4 472.2L805.0 470.4L805.6 472.5L806.2 472.6L806.8 472.6L807.4 471.8L808.0 472.5L808.6 472.7L809.2 472.4L809.8 471.1L810.4 471.5L811.0 471.4L811.6 471.9L812.2 472.6L812.8 471.6L813.4 471.4L814.1 472.4L814.7 469.9L815.3 472.5L815.9 470.8L816.5 470.8L817.1 470.6L817.7 472.4L818.3 471.9L818.9 470.7L819.5 470.3L820.1 471.9L820.7 471.7L821.3 471.3L821.9 472.5L822.5 471.3L823.1 471.9L823.7 470.7L824.3 470.5L824.9 471.6L825.5 471.4L826.1 471.3L826.7 470.5L827.3 471.5L827.9 471.6L828.5 472.2L829.1 471.5L829.7 472.1L830.3 471.7L830.9 472.0L831.5 471.8L832.1 469.7L832.7 471.5L833.3 471.2L833.9 470.6L834.5 471.8L835.1 471.3L835.7 472.2L836.3 472.6L836.9 471.6L837.5 471.3L838.1 471.6L838.7 472.3L839.3 471.8L839.9 471.7L840.5 470.4L841.1 472.2L841.7 472.2L842.3 471.6L842.9 472.6L843.5 469.1L844.1 471.5L844.7 470.8L845.3 472.0L845.9 472.2L846.5 472.2L847.1 472.0L847.7 472.6L848.4 471.7L849.0 472.2L849.6 471.6L850.2 472.6L850.8 470.7L851.4 471.5L852.0 471.2L852.6 471.8L853.2 472.5L853.8 471.5L854.4 472.6L855.0 472.0L855.6 471.9L856.2 472.6L856.8 472.1L857.4 472.0L858.0 472.2L858.6 471.8L859.2 472.2L859.8 472.7L860.4 472.6L861.0 472.6L861.6 472.5L862.2 472.6L862.8 471.6L863.4 472.1L864.0 472.2L864.6 471.3L865.2 472.3L865.8 472.1L866.4 472.6L867.0 472.6L867.6 472.4L868.2 472.4L868.8 472.5L869.4 472.6L870.0 472.3L870.6 472.6L871.2 472.3L871.8 472.7L872.4 472.2L873.0 472.3L873.6 472.5L874.2 472.2L874.8 472.3L875.4 472.4L876.0 472.0L876.6 472.0L877.2 472.7L877.8 472.6L878.4 472.4L879.0 472.4L879.6 472.6L880.2 472.1L880.8 472.4L881.4 472.2L882.0 472.7L882.6 472.4L883.3 472.5L883.9 472.5L884.5 472.7L885.1 472.4L885.7 472.5L886.3 472.5L886.9 472.4L887.5 472.6L888.1 472.5L888.7 472.5L889.3 472.6L889.9 472.7L890.5 472.4L891.1 472.6L891.7 472.6L892.3 472.2L892.9 472.5L893.5 472.5L894.1 472.5L894.7 472.5L895.3 472.5L895.9 472.2L896.5 472.5L897.1 472.7L897.7 472.6L898.3 472.6L898.9 472.7L899.5 472.6L900.1 472.4L900.7 472.3L901.3 472.7L901.9 472.4L902.5 472.6L903.1 472.2L903.7 471.5L904.3 472.5L904.9 472.1L905.5 471.6L906.1 471.1L906.7 472.2L907.3 472.0L907.9 472.5L908.5 471.7L909.1 472.6L909.7 471.6L910.3 471.2L910.9 472.1L911.5 471.5L912.1 472.3L912.7 470.2L913.3 471.8L913.9 472.6L914.5 470.0L915.1 472.6L915.7 471.5L916.3 470.8L916.9 471.5L917.6 471.8L918.2 472.3L918.8 472.5L919.4 472.3L920.0 472.0L920.6 472.0L921.2 471.9L921.8 472.1L922.4 471.0L923.0 470.9L923.6 471.0L924.2 471.9L924.8 472.6L925.4 471.6L926.0 470.3L926.6 472.0L927.2 469.3L927.8 472.3L928.4 471.7L929.0 469.6L929.6 472.7L930.2 472.4L930.8 472.0L931.4 472.4L932.0 470.0L932.6 470.7L933.2 470.4L933.8 471.2L934.4 472.5L935.0 470.8L935.6 469.4L936.2 471.7L936.8 470.3L937.4 471.3L938.0 469.6L938.6 471.4L939.2 472.1L939.8 472.7L940.4 470.5L941.0 470.3L941.6 470.0L942.2 471.6L942.8 471.8L943.4 471.8L944.0 470.1L944.6 470.4L945.2 470.4L945.8 472.5L946.4 471.1L947.0 471.4L947.6 471.8L948.2 472.4L948.8 470.6L949.4 472.2L950.0 471.6L950.6 471.3L951.2 471.6L951.9 471.8L952.5 471.9L953.1 469.8L953.7 471.2L954.3 470.2L954.9 471.1L955.5 471.4L956.1 471.9L956.7 470.6L957.3 469.3L957.9 470.9L958.5 471.5L959.1 470.9L959.7 472.3L960.3 472.5L960.9 469.2" fill="none" stroke="#2278bd" stroke-width=".5" stroke-opacity=".9"/><path d="M764.2 485.7L765.7 485.5L766.4 484.7L767.2 489.8L768.1 493.5L769.3 484.0L770.6 484.2L771.5 485.4L772.0 492.1L772.0 492.1L772.2 481.0L772.5 492.6L772.7 483.0L772.9 491.1L773.3 483.4L773.6 492.7L774.1 485.0L775.1 489.3L776.4 490.4L777.6 481.5L778.8 489.3L780.3 488.3L780.8 491.3L781.8 482.6L782.5 491.3L782.9 484.3L784.8 483.0L785.7 492.0L786.5 482.7L787.5 483.6L788.1 482.4L789.1 491.7L790.0 493.9L790.8 484.8L791.5 493.6L792.0 482.2L792.5 489.6L792.9 483.5L793.4 491.3L794.5 484.2L795.2 492.8L796.4 493.9L797.6 482.1L798.3 480.9L799.9 480.9L800.5 490.7L801.6 484.7L802.6 491.1L803.5 485.8L804.1 483.8L805.6 484.8L806.5 492.9L807.5 490.5L809.3 492.9L809.3 492.9L809.6 482.2L809.9 492.1L810.3 483.6L810.5 493.7L810.7 482.0L811.0 491.1L811.3 482.2L811.8 491.6L812.9 489.1L812.9 489.1L813.2 481.8L813.3 493.2L813.5 483.8L813.7 492.4L813.9 481.1L815.2 480.9L816.4 493.8L816.4 493.8L816.8 481.7L817.1 491.8L817.3 483.4L817.6 491.1L817.8 483.2L819.0 489.6L820.1 482.8L821.9 483.6L823.1 483.3L824.3 489.8L824.8 491.0L825.6 484.9L826.4 492.5L827.0 493.2L827.8 484.7L828.5 489.4L829.0 484.5L830.0 490.0L831.2 482.8L832.2 490.2L832.9 481.2L833.5 493.9L834.3 491.9L834.8 481.2L836.3 480.9L837.6 489.7L838.0 483.5L838.6 491.8L839.3 481.9L840.4 490.9L841.2 492.4L842.1 484.1L842.5 492.8L843.6 483.2L843.6 483.2L843.8 493.8L844.0 481.5L844.2 493.8L844.6 483.9L845.3 485.3L846.7 484.5L847.9 491.2L847.9 491.2L848.3 482.6L848.6 492.7L848.8 483.0L849.1 491.3L849.4 481.3L849.5 491.6L850.2 481.3L851.0 493.4L851.5 483.3L852.0 490.3L852.0 490.3L852.3 481.2L852.6 493.1L852.9 483.3L853.2 492.6L854.2 494.1L856.1 492.6L856.5 484.8L857.9 483.6L859.2 483.5L860.7 482.7L861.7 491.6L862.4 485.2L863.3 484.0L863.8 489.9L864.5 491.8L864.9 483.4L865.8 489.4L866.4 493.8L866.8 484.2L867.6 482.5L868.7 492.6L869.3 483.9L871.0 482.1L872.3 492.1L873.0 492.3L873.4 482.2L874.5 481.4L875.9 480.9L876.6 492.1L877.7 481.3L878.3 490.3L879.1 484.2L880.6 485.8L881.5 491.4L882.4 483.8L882.8 490.9L883.2 483.1L884.4 492.2L885.3 484.6L885.8 493.0L887.0 483.7L887.4 490.1L888.1 484.2L889.3 484.7L890.5 493.0L891.1 481.3L892.5 481.2L893.0 490.5L894.5 491.2L895.0 483.2L896.0 490.8L897.0 485.8L897.4 493.9L898.2 484.4L899.3 494.0L900.8 493.1L901.7 482.2L902.0 492.0L902.4 481.6L902.9 493.4L904.0 483.1L904.6 493.3L905.7 492.0L907.0 490.6L908.8 489.3L910.3 488.8L910.7 483.9L912.1 486.2L912.8 492.7L913.9 482.7L914.8 482.7L915.7 493.6L915.7 493.6L916.0 482.7L916.2 493.7L916.3 481.5L916.6 491.1L916.8 483.9L917.5 483.0L918.2 493.1L918.8 482.6L919.5 490.0L920.2 484.4L921.3 491.0L922.0 482.8L923.6 484.9L924.7 492.3L925.2 482.8L925.5 493.4L926.8 484.9L927.3 493.8L927.9 482.1L928.9 490.9L930.3 491.1L930.3 491.1L930.6 482.6L930.9 491.9L931.2 481.4L931.4 491.9L931.6 481.6L932.9 490.1L932.9 490.1L933.3 483.4L933.5 493.8L933.8 483.5L934.1 492.2L934.3 484.3L934.6 493.1L935.0 483.1L935.3 493.6L935.7 482.4L937.4 484.9L938.3 490.7L938.8 488.6L939.6 492.8L940.4 481.9L942.2 484.3L943.9 484.4L944.9 490.8L946.8 491.5L947.2 485.6L947.8 483.7L949.0 489.6L950.1 489.3L951.3 483.0L952.4 484.4L953.4 491.7L954.4 481.3L954.9 490.4L955.5 483.8L955.5 483.8L955.8 493.0L956.1 483.3L956.3 493.1L956.5 483.4L956.7 492.8L957.0 481.3L957.8 481.4L959.0 492.8L959.7 485.8L960.9 493.9" fill="none" stroke="#2278bd" stroke-width=".5" stroke-opacity=".9"/></g><g transform="translate(-0.6 0)"><g fill="none" stroke="#6f6f6f" stroke-width=".55"><rect x="762.3" y="519.6" width="224.2" height="21.6"/><rect x="762.3" y="545.6" width="224.2" height="20.9"/></g><path d="M794.3 519.6v1.6M794.3 541.2v-1.6M794.3 545.6v1.6M794.3 566.5v-1.6M826.4 519.6v1.6M826.4 541.2v-1.6M826.4 545.6v1.6M826.4 566.5v-1.6M858.4 519.6v1.6M858.4 541.2v-1.6M858.4 545.6v1.6M858.4 566.5v-1.6M890.4 519.6v1.6M890.4 541.2v-1.6M890.4 545.6v1.6M890.4 566.5v-1.6M922.4 519.6v1.6M922.4 541.2v-1.6M922.4 545.6v1.6M922.4 566.5v-1.6M954.5 519.6v1.6M954.5 541.2v-1.6M954.5 545.6v1.6M954.5 566.5v-1.6M986.5 530.4h-1.6M986.5 556.0h-1.6" stroke="#777" stroke-width=".5" fill="none"/><text x="761.8" y="572.9" text-anchor="middle">0</text><text x="793.8" y="572.9" text-anchor="middle">0.5</text><text x="825.9" y="572.9" text-anchor="middle">1</text><text x="857.9" y="572.9" text-anchor="middle">1.5</text><text x="889.9" y="572.9" text-anchor="middle">2</text><text x="921.9" y="572.9" text-anchor="middle">2.5</text><text x="954.0" y="572.9" text-anchor="middle">3</text><text x="986.0" y="572.9" text-anchor="middle">3.5</text><text x="873.4" y="579.2" text-anchor="middle">t(ms)</text><text x="760.5" y="521.1" text-anchor="end">200</text><text x="760.5" y="531.9" text-anchor="end">100</text><text x="760.5" y="542.7" text-anchor="end">0</text><text x="760.5" y="547.1" text-anchor="end">5</text><text x="760.5" y="557.5" text-anchor="end">0</text><text x="760.5" y="568.0" text-anchor="end">-5</text><text transform="translate(749.0 530.4) rotate(-90)" text-anchor="middle" font-size="6">G</text><text transform="translate(752.3 556.0) rotate(-90)" text-anchor="middle" font-size="6.2">rad</text><path d="M762.3 534.7L762.9 534.7L763.5 534.7L764.1 540.6L764.7 539.8L765.3 538.2L765.9 534.9L766.5 530.9L767.1 527.2L767.7 526.4L768.3 530.3L768.9 535.4L769.5 538.2L770.1 539.9L770.7 540.2L771.3 539.9L771.9 539.9L772.5 540.4L773.1 540.4L773.7 539.6L774.3 539.8L774.9 540.3L775.5 540.6L776.1 539.9L776.7 538.9L777.3 539.8L777.9 540.7L778.5 539.5L779.1 538.6L779.8 537.4L780.4 534.2L781.0 531.7L781.6 529.3L782.2 531.5L782.8 533.8L783.4 537.6L784.0 538.8L784.6 539.9L785.2 539.9L785.8 540.7L786.4 538.4L787.0 539.1L787.6 540.8L788.2 538.7L788.8 540.1L789.4 539.7L790.0 540.8L790.6 540.1L791.2 540.4L791.8 538.6L792.4 539.8L793.0 540.4L793.6 540.2L794.2 539.5L794.8 540.7L795.4 539.9L796.0 539.6L796.6 539.7L797.2 540.6L797.8 540.4L798.4 539.2L799.0 540.7L799.6 540.6L800.2 540.5L800.8 540.1L801.4 538.4L802.0 540.1L802.6 539.7L803.2 540.2L803.8 539.9L804.4 540.2L805.0 539.0L805.6 540.1L806.2 539.4L806.8 539.9L807.4 539.8L808.0 539.2L808.6 539.8L809.2 540.4L809.8 538.8L810.4 540.6L811.0 540.8L811.6 540.2L812.2 539.9L812.8 539.9L813.4 540.5L814.1 540.8L814.7 540.3L815.3 538.1L815.9 540.0L816.5 540.3L817.1 540.2L817.7 540.8L818.3 540.3L818.9 540.4L819.5 540.6L820.1 537.4L820.7 539.4L821.3 539.0L821.9 540.1L822.5 540.2L823.1 540.8L823.7 540.0L824.3 540.1L824.9 539.3L825.5 540.5L826.1 539.8L826.7 540.1L827.3 540.5L827.9 540.9L828.5 540.8L829.1 539.2L829.7 540.6L830.3 540.6L830.9 540.5L831.5 540.1L832.1 540.0L832.7 540.8L833.3 539.8L833.9 539.6L834.5 539.0L835.1 540.8L835.7 540.8L836.3 540.5L836.9 539.6L837.5 540.0L838.1 540.5L838.7 540.3L839.3 539.9L839.9 540.2L840.5 540.8L841.1 540.2L841.7 540.4L842.3 539.8L842.9 540.2L843.5 540.9L844.1 539.9L844.7 540.6L845.3 540.6L845.9 540.6L846.5 540.7L847.1 540.5L847.7 540.7L848.4 540.8L849.0 540.7L849.6 540.5L850.2 540.1L850.8 540.7L851.4 540.5L852.0 540.8L852.6 540.5L853.2 540.7L853.8 540.5L854.4 540.0L855.0 540.7L855.6 540.8L856.2 540.9L856.8 540.6L857.4 540.8L858.0 540.7L858.6 540.8L859.2 540.7L859.8 540.7L860.4 540.8L861.0 540.4L861.6 540.6L862.2 540.5L862.8 540.8L863.4 540.8L864.0 540.8L864.6 540.9L865.2 540.8L865.8 540.7L866.4 540.4L867.0 540.4L867.6 540.8L868.2 540.5L868.8 540.8L869.4 540.9L870.0 540.7L870.6 540.9L871.2 540.8L871.8 540.7L872.4 540.7L873.0 540.6L873.6 540.8L874.2 540.7L874.8 540.5L875.4 540.8L876.0 540.6L876.6 540.5L877.2 540.7L877.8 540.7L878.4 540.7L879.0 540.7L879.6 540.3L880.2 540.4L880.8 540.8L881.4 540.6L882.0 540.7L882.6 540.8L883.3 540.5L883.9 540.5L884.5 540.4L885.1 540.2L885.7 540.8L886.3 540.2L886.9 540.4L887.5 540.8L888.1 540.5L888.7 540.5L889.3 540.5L889.9 540.1L890.5 540.0L891.1 540.6L891.7 540.7L892.3 540.6L892.9 540.2L893.5 540.6L894.1 540.3L894.7 540.4L895.3 539.4L895.9 540.5L896.5 540.7L897.1 540.0L897.7 540.7L898.3 540.8L898.9 540.8L899.5 540.6L900.1 540.4L900.7 539.7L901.3 538.6L901.9 539.7L902.5 539.9L903.1 540.2L903.7 539.2L904.3 538.2L904.9 540.9L905.5 540.5L906.1 539.7L906.7 539.9L907.3 540.8L907.9 539.9L908.5 540.8L909.1 537.4L909.7 539.8L910.3 540.8L910.9 540.4L911.5 540.0L912.1 539.5L912.7 540.4L913.3 537.1L913.9 540.3L914.5 540.4L915.1 539.2L915.7 539.6L916.3 537.5L916.9 540.6L917.6 538.6L918.2 539.5L918.8 540.4L919.4 540.8L920.0 538.2L920.6 538.2L921.2 538.4L921.8 540.4L922.4 539.7L923.0 540.2L923.6 539.4L924.2 538.7L924.8 539.8L925.4 539.1L926.0 538.8L926.6 540.9L927.2 538.8L927.8 540.4L928.4 540.0L929.0 539.8L929.6 540.6L930.2 539.3L930.8 538.5L931.4 539.3L932.0 537.9L932.6 539.2L933.2 538.2L933.8 540.0L934.4 540.6L935.0 538.5L935.6 540.8L936.2 540.1L936.8 537.7L937.4 540.7L938.0 538.5L938.6 538.0L939.2 540.3L939.8 539.9L940.4 539.1L941.0 540.4L941.6 539.9L942.2 538.9L942.8 539.7L943.4 538.2L944.0 540.2L944.6 540.1L945.2 540.7L945.8 539.2L946.4 539.5L947.0 539.1L947.6 540.0L948.2 538.6L948.8 539.5L949.4 538.6L950.0 539.1L950.6 539.9L951.2 539.0L951.9 538.1L952.5 539.9L953.1 540.8L953.7 539.1L954.3 540.2L954.9 540.7L955.5 540.9L956.1 540.0L956.7 538.9L957.3 540.0L957.9 538.8L958.5 540.1L959.1 539.0L959.7 540.3L960.3 540.0L960.9 538.1" fill="none" stroke="#2278bd" stroke-width=".5" stroke-opacity=".9"/><path d="M764.2 557.7L765.4 559.7L766.6 551.6L767.5 549.5L767.9 559.7L768.7 553.1L769.1 560.3L770.6 562.1L771.6 550.6L773.4 550.6L774.1 558.6L774.8 551.0L775.1 562.5L776.6 562.6L777.6 549.7L778.9 559.5L779.5 549.7L780.8 549.5L781.6 549.5L782.7 562.2L783.6 562.6L784.3 553.6L785.5 553.9L787.1 556.1L788.4 550.6L789.3 549.5L790.5 560.1L790.8 552.6L791.4 560.3L791.8 552.0L792.5 559.9L793.2 551.8L794.0 557.8L795.0 558.9L795.8 550.7L796.5 553.2L797.2 559.5L798.0 549.7L798.9 562.4L799.6 550.3L799.6 550.3L799.7 561.2L800.0 551.6L800.2 562.3L800.4 549.9L801.7 560.1L802.8 553.3L803.8 559.7L804.5 558.3L806.2 559.0L807.0 550.0L807.7 558.5L807.7 558.5L808.0 552.2L808.2 560.0L808.5 551.6L808.9 560.0L809.5 553.9L810.9 555.1L812.2 554.4L812.9 552.1L812.9 552.1L813.2 561.0L813.5 549.7L813.7 559.4L814.1 552.0L815.3 553.8L816.4 551.9L817.3 560.0L818.2 561.5L819.5 562.6L820.3 550.7L822.0 552.1L822.4 558.0L823.2 549.6L824.3 561.1L825.1 551.9L825.8 550.2L826.5 558.1L827.4 559.6L829.1 557.3L829.7 549.7L830.7 558.8L830.7 558.8L830.8 550.0L831.0 562.5L831.2 549.9L831.4 562.3L832.3 554.3L832.9 559.0L833.3 554.0L834.0 551.3L834.8 550.9L835.5 561.9L836.7 551.6L837.6 558.6L838.6 552.1L838.6 552.1L838.9 561.0L839.0 549.8L839.2 559.6L839.5 551.6L839.7 560.3L839.9 550.6L840.2 561.2L840.2 561.2L840.4 550.8L840.6 560.5L840.9 551.3L841.2 561.0L841.5 550.7L841.7 561.6L841.9 551.7L842.1 562.4L842.5 549.7L842.5 549.7L842.8 562.4L843.1 552.8L843.4 561.4L843.7 551.4L843.9 559.3L844.1 551.0L844.4 562.4L844.8 550.4L845.5 561.7L846.5 550.1L846.5 550.1L846.8 562.1L847.1 549.7L847.4 561.8L849.2 560.7L849.9 562.1L850.8 550.5L852.1 559.5L853.1 549.9L853.9 549.5L854.5 559.0L855.7 551.6L856.1 560.4L856.8 552.6L857.4 552.7L858.1 552.0L859.4 558.5L860.3 551.6L861.3 558.6L862.5 552.9L863.5 560.2L864.3 552.5L864.3 552.5L864.6 560.1L864.8 551.6L865.0 560.7L865.3 549.5L865.6 562.0L866.1 562.6L867.2 551.7L867.9 559.0L868.3 552.2L868.7 558.4L869.1 561.8L869.1 561.8L869.3 549.6L869.5 559.5L869.9 551.2L870.1 560.4L870.4 552.7L870.8 559.4L871.0 551.6L872.2 560.3L872.7 561.2L874.1 560.4L875.3 554.0L875.6 549.5L876.3 558.7L876.7 551.8L878.5 552.5L879.0 559.5L880.3 550.1L882.0 549.8L883.1 560.1L883.9 552.0L884.9 560.0L886.2 553.5L886.7 558.1L888.4 557.8L888.9 549.5L889.6 558.1L889.6 558.1L890.0 552.4L890.1 561.4L890.4 551.5L890.7 560.6L891.1 552.0L891.3 559.6L891.7 550.9L892.9 559.5L893.5 552.3L894.5 559.1L895.1 550.9L896.1 560.4L896.5 552.3L897.0 558.4L898.1 552.6L899.3 550.9L900.9 549.7L901.7 558.1L902.9 556.7L904.1 555.0L904.7 556.9L905.4 562.1L906.0 551.9L907.0 558.4L908.1 549.6L908.7 549.5L909.8 562.5L910.6 551.3L911.4 558.4L912.1 559.7L913.3 550.6L913.6 557.9L915.2 559.7L916.5 553.6L917.5 552.9L917.9 558.7L918.7 553.7L919.7 553.5L921.0 559.3L922.5 561.6L923.5 552.5L925.3 554.8L926.9 554.0L928.3 556.2L928.8 561.5L929.1 554.3L930.1 562.6L931.3 554.3L932.6 559.4L933.7 553.8L934.7 552.7L935.6 561.1L936.5 558.8L937.7 552.4L939.0 551.1L940.3 562.2L942.0 562.6L943.0 550.3L944.1 559.7L945.3 551.7L945.3 551.7L945.6 561.3L945.8 552.8L946.2 560.5L946.7 559.0L947.1 550.8L947.6 558.6L948.8 557.2L949.4 560.8L950.3 553.9L951.0 552.1L952.2 550.5L953.2 552.1L954.0 561.3L954.7 550.1L955.4 558.8L956.9 559.5L958.1 554.3L958.6 549.7L959.1 558.7L959.7 558.6L960.2 551.9" fill="none" stroke="#2278bd" stroke-width=".5" stroke-opacity=".9"/></g><g transform="translate(0.0 0)"><g fill="none" stroke="#6f6f6f" stroke-width=".55"><rect x="762.3" y="585.8" width="224.2" height="21.2"/><rect x="762.3" y="610.0" width="224.2" height="21.3"/></g><path d="M794.3 585.8v1.6M794.3 607.0v-1.6M794.3 610.0v1.6M794.3 631.3v-1.6M826.4 585.8v1.6M826.4 607.0v-1.6M826.4 610.0v1.6M826.4 631.3v-1.6M858.4 585.8v1.6M858.4 607.0v-1.6M858.4 610.0v1.6M858.4 631.3v-1.6M890.4 585.8v1.6M890.4 607.0v-1.6M890.4 610.0v1.6M890.4 631.3v-1.6M922.4 585.8v1.6M922.4 607.0v-1.6M922.4 610.0v1.6M922.4 631.3v-1.6M954.5 585.8v1.6M954.5 607.0v-1.6M954.5 610.0v1.6M954.5 631.3v-1.6M986.5 596.4h-1.6M986.5 620.6h-1.6" stroke="#777" stroke-width=".5" fill="none"/><text x="761.8" y="637.5" text-anchor="middle">0</text><text x="793.8" y="637.5" text-anchor="middle">0.5</text><text x="825.9" y="637.5" text-anchor="middle">1</text><text x="857.9" y="637.5" text-anchor="middle">1.5</text><text x="889.9" y="637.5" text-anchor="middle">2</text><text x="921.9" y="637.5" text-anchor="middle">2.5</text><text x="954.0" y="637.5" text-anchor="middle">3</text><text x="986.0" y="637.5" text-anchor="middle">3.5</text><text x="873.4" y="644.5" text-anchor="middle">t(ms)</text><text x="760.5" y="587.3" text-anchor="end">200</text><text x="760.5" y="597.9" text-anchor="end">100</text><text x="760.5" y="608.5" text-anchor="end">0</text><text x="760.5" y="611.5" text-anchor="end">5</text><text x="760.5" y="622.1" text-anchor="end">0</text><text x="760.5" y="632.8" text-anchor="end">-5</text><text transform="translate(749.0 596.4) rotate(-90)" text-anchor="middle" font-size="6">G</text><text transform="translate(752.3 620.6) rotate(-90)" text-anchor="middle" font-size="6.2">rad</text><path d="M762.3 600.6L762.9 600.6L763.5 600.6L764.1 605.6L764.7 605.7L765.3 606.4L765.9 606.3L766.5 605.6L767.1 605.9L767.7 604.8L768.3 600.1L768.9 595.4L769.5 591.2L770.1 590.6L770.7 593.3L771.3 598.6L771.9 601.2L772.5 604.4L773.1 605.9L773.7 606.3L774.3 605.2L774.9 605.5L775.5 605.5L776.1 606.6L776.7 604.4L777.3 606.4L777.9 604.9L778.5 605.6L779.1 605.6L779.8 604.7L780.4 606.1L781.0 604.7L781.6 602.7L782.2 602.5L782.8 600.3L783.4 598.1L784.0 597.8L784.6 600.5L785.2 602.1L785.8 602.6L786.4 605.6L787.0 606.5L787.6 606.3L788.2 606.6L788.8 605.9L789.4 606.7L790.0 606.5L790.6 605.8L791.2 605.8L791.8 605.5L792.4 606.0L793.0 605.5L793.6 605.0L794.2 603.5L794.8 606.5L795.4 606.3L796.0 606.1L796.6 604.5L797.2 605.4L797.8 605.4L798.4 606.1L799.0 606.2L799.6 605.8L800.2 606.5L800.8 606.0L801.4 606.0L802.0 606.1L802.6 606.5L803.2 605.3L803.8 606.5L804.4 606.3L805.0 606.0L805.6 605.7L806.2 606.2L806.8 606.2L807.4 606.4L808.0 605.8L808.6 606.5L809.2 605.5L809.8 606.2L810.4 606.1L811.0 606.7L811.6 606.5L812.2 606.0L812.8 605.9L813.4 606.5L814.1 606.0L814.7 605.8L815.3 606.6L815.9 606.7L816.5 606.4L817.1 606.2L817.7 606.6L818.3 606.3L818.9 606.4L819.5 606.6L820.1 606.3L820.7 606.2L821.3 606.3L821.9 606.0L822.5 606.1L823.1 606.6L823.7 606.0L824.3 605.5L824.9 606.6L825.5 606.5L826.1 606.5L826.7 606.2L827.3 606.6L827.9 606.5L828.5 606.4L829.1 606.2L829.7 606.4L830.3 606.1L830.9 606.4L831.5 606.5L832.1 606.5L832.7 606.5L833.3 606.1L833.9 606.6L834.5 606.6L835.1 606.6L835.7 606.5L836.3 606.6L836.9 606.3L837.5 606.1L838.1 606.6L838.7 606.4L839.3 606.0L839.9 606.4L840.5 606.6L841.1 606.7L841.7 606.4L842.3 606.5L842.9 606.5L843.5 606.5L844.1 606.7L844.7 606.7L845.3 606.3L845.9 606.5L846.5 606.4L847.1 606.6L847.7 606.5L848.4 606.4L849.0 606.6L849.6 606.5L850.2 606.7L850.8 606.6L851.4 606.7L852.0 606.6L852.6 606.7L853.2 606.7L853.8 606.3L854.4 606.3L855.0 606.6L855.6 606.5L856.2 606.2L856.8 606.7L857.4 606.1L858.0 606.5L858.6 606.5L859.2 606.4L859.8 606.6L860.4 606.6L861.0 606.6L861.6 606.4L862.2 606.7L862.8 606.2L863.4 606.3L864.0 606.7L864.6 605.8L865.2 606.6L865.8 606.5L866.4 606.6L867.0 606.3L867.6 606.5L868.2 606.7L868.8 606.3L869.4 606.0L870.0 606.0L870.6 606.3L871.2 606.5L871.8 606.5L872.4 606.3L873.0 605.9L873.6 606.4L874.2 606.6L874.8 606.6L875.4 606.0L876.0 606.5L876.6 606.7L877.2 606.3L877.8 606.6L878.4 606.4L879.0 606.4L879.6 606.7L880.2 605.4L880.8 606.3L881.4 605.8L882.0 605.6L882.6 606.6L883.3 605.0L883.9 605.2L884.5 606.6L885.1 604.5L885.7 606.3L886.3 605.8L886.9 606.1L887.5 605.4L888.1 605.6L888.7 605.7L889.3 605.5L889.9 603.9L890.5 606.5L891.1 605.5L891.7 606.4L892.3 606.3L892.9 605.2L893.5 605.6L894.1 606.4L894.7 605.1L895.3 605.5L895.9 606.2L896.5 606.5L897.1 605.1L897.7 605.7L898.3 605.9L898.9 605.1L899.5 606.3L900.1 605.9L900.7 606.1L901.3 606.6L901.9 605.9L902.5 604.8L903.1 605.1L903.7 605.8L904.3 606.2L904.9 604.1L905.5 603.6L906.1 603.3L906.7 602.8L907.3 605.1L907.9 606.6L908.5 605.4L909.1 606.1L909.7 606.3L910.3 606.7L910.9 606.6L911.5 604.5L912.1 606.2L912.7 605.7L913.3 605.5L913.9 605.5L914.5 605.9L915.1 606.2L915.7 604.0L916.3 604.6L916.9 606.3L917.6 606.3L918.2 605.5L918.8 603.2L919.4 605.7L920.0 605.4L920.6 606.4L921.2 606.0L921.8 602.2L922.4 605.3L923.0 605.9L923.6 602.6L924.2 606.7L924.8 606.1L925.4 604.5L926.0 605.2L926.6 605.0L927.2 604.5L927.8 606.1L928.4 605.5L929.0 605.5L929.6 606.5L930.2 605.0L930.8 604.9L931.4 605.8L932.0 604.4L932.6 603.4L933.2 605.4L933.8 606.3L934.4 604.7L935.0 605.0L935.6 605.6L936.2 606.6L936.8 604.7L937.4 606.3L938.0 604.8L938.6 606.6L939.2 606.5L939.8 603.6L940.4 606.3L941.0 606.5L941.6 605.7L942.2 604.7L942.8 606.6L943.4 605.3L944.0 605.9L944.6 604.5L945.2 606.6L945.8 605.4L946.4 605.6L947.0 606.2L947.6 604.7L948.2 605.9L948.8 606.0L949.4 606.2L950.0 605.6L950.6 605.6L951.2 606.6L951.9 604.7L952.5 606.7L953.1 605.4L953.7 605.3L954.3 606.1L954.9 606.4L955.5 604.7L956.1 604.6L956.7 605.1L957.3 605.1L957.9 606.4L958.5 605.8L959.1 605.5L959.7 605.2L960.3 605.9L960.9 606.2" fill="none" stroke="#2278bd" stroke-width=".5" stroke-opacity=".9"/><path d="M764.2 621.0L766.0 618.9L767.1 620.6L767.1 620.6L767.4 627.0L767.7 615.0L767.8 625.0L768.0 614.5L769.7 614.0L770.1 624.4L770.9 626.8L771.8 614.6L773.3 614.0L774.9 615.4L775.7 617.2L776.8 626.6L777.1 614.7L777.8 616.8L778.2 625.7L779.4 617.4L779.4 617.4L779.5 625.0L779.8 614.9L780.0 624.5L780.3 614.5L780.4 626.4L781.5 617.7L782.3 616.7L782.3 616.7L782.4 625.4L782.8 615.5L783.2 625.3L783.5 615.9L783.8 624.5L783.9 614.6L784.1 626.6L784.4 616.7L784.8 623.4L786.6 623.7L787.2 623.7L788.0 626.1L788.7 627.1L789.6 616.0L790.9 617.9L791.5 627.0L792.9 625.6L793.8 623.1L794.2 624.4L796.0 625.4L796.4 615.3L797.7 614.0L799.3 614.0L800.4 625.0L800.9 614.6L801.3 627.2L802.4 615.3L802.9 622.7L804.8 624.3L805.3 617.3L805.8 623.3L805.8 623.3L806.2 616.2L806.4 624.5L806.7 614.1L806.9 625.7L807.2 615.0L807.4 625.4L807.6 615.5L808.3 627.3L809.4 615.2L810.9 615.8L811.3 625.4L811.9 618.1L813.7 620.5L814.6 614.2L815.7 614.0L817.3 616.3L817.8 626.2L818.7 616.3L819.6 623.2L821.2 624.5L822.4 623.6L822.8 616.6L823.3 623.7L825.0 624.5L826.2 614.5L827.1 614.7L828.2 623.9L828.2 623.9L828.5 616.5L828.8 626.9L828.9 615.6L829.3 625.1L829.6 616.3L829.8 625.0L830.1 615.4L830.4 627.1L831.4 625.3L832.8 626.5L833.9 617.3L834.3 626.3L835.8 627.2L836.3 616.5L837.1 615.5L837.7 624.0L838.8 621.9L839.5 621.0L839.9 615.8L840.8 624.1L841.5 614.3L842.0 624.2L843.0 622.7L843.5 618.0L844.0 626.6L845.2 614.5L846.4 616.8L847.0 623.0L847.7 622.6L848.9 626.2L849.6 627.3L850.9 615.5L852.1 624.7L852.7 626.2L853.2 623.9L854.6 626.0L855.0 618.8L855.9 625.6L856.9 624.1L857.2 614.4L858.7 614.0L860.3 614.0L860.6 623.5L861.3 623.7L861.9 617.6L863.5 617.0L864.6 617.3L865.7 624.1L867.2 625.2L868.2 618.9L870.1 619.8L871.7 620.7L873.5 622.5L874.4 615.4L874.9 624.9L876.7 624.6L877.4 614.5L878.0 627.1L879.2 618.1L880.5 617.9L881.9 620.1L882.8 626.7L884.6 625.8L885.3 614.8L887.1 614.0L888.4 614.5L889.7 616.8L890.3 625.9L891.0 615.3L891.7 626.9L892.8 616.5L893.5 623.8L894.8 618.2L895.1 624.9L895.5 616.1L896.7 615.7L896.7 615.7L896.8 627.1L897.2 617.0L897.4 625.0L897.6 615.1L898.5 614.9L898.9 625.6L899.7 615.9L900.7 625.3L901.9 627.3L902.5 617.3L903.2 625.4L904.1 618.7L904.7 617.6L905.3 624.6L905.6 614.5L905.6 614.5L905.8 625.5L906.1 615.8L906.4 624.1L907.2 624.2L907.2 624.2L907.5 616.9L907.7 626.5L908.0 617.4L908.1 625.0L908.4 614.0L909.5 624.0L910.3 624.7L911.4 625.1L912.7 615.3L913.4 626.6L914.7 614.9L916.4 614.0L917.6 614.0L918.4 622.4L918.8 623.8L919.8 617.5L921.4 620.0L922.3 623.8L922.8 615.2L923.6 623.9L924.4 614.5L925.4 623.4L926.9 625.9L928.7 627.3L930.0 625.3L931.3 626.4L932.1 624.9L932.5 616.9L933.0 625.4L934.1 618.2L934.8 616.0L936.1 624.6L937.3 614.1L937.9 626.2L939.0 616.1L939.6 625.7L941.1 625.8L941.6 626.9L943.0 626.8L944.1 624.8L945.6 625.3L946.7 626.0L947.4 617.2L949.3 619.5L950.7 619.2L951.4 626.8L952.0 617.9L953.1 617.1L953.5 623.3L954.0 616.1L954.5 624.0L956.1 624.7L956.6 625.3L958.0 625.1L959.2 616.2L959.2 616.2L959.5 625.3L959.7 615.4L959.9 625.3L960.3 617.0L960.4 624.7L960.7 616.5" fill="none" stroke="#2278bd" stroke-width=".5" stroke-opacity=".9"/></g><rect x="761.7" y="112" width="1.45" height="520.5" fill="#b00a1e"/></svg>
<div style="left:0;top:0"><span style="position:absolute;left:372.80px;top:117.35px;font-size:19.80px;line-height:22.77px;letter-spacing:0.00px;white-space:nowrap">B</span> <span style="position:absolute;left:384.80px;top:129.55px;font-size:11.88px;line-height:13.66px;letter-spacing:0.00px;white-space:nowrap">1</span> <span style="position:absolute;left:392.70px;top:116.99px;font-size:12.28px;line-height:14.12px;letter-spacing:0.00px;white-space:nowrap">+</span> <span style="position:absolute;left:406.70px;top:117.35px;font-size:19.80px;line-height:22.77px;letter-spacing:1.00px;white-space:nowrap">for</span> <span style="position:absolute;left:439.65px;top:117.35px;font-size:19.80px;line-height:22.77px;letter-spacing:-0.90px;white-space:nowrap">BC</span> <span style="position:absolute;left:471.50px;top:117.35px;font-size:19.80px;line-height:22.77px;letter-spacing:2.02px;white-space:nowrap">mode</span></div>
<div style="left:0;top:0"><span style="position:absolute;left:1067.10px;top:316.79px;font-size:20.30px;line-height:23.34px;letter-spacing:1.02px;white-space:nowrap">resulting</span> <span style="position:absolute;left:1158.70px;top:316.79px;font-size:20.30px;line-height:23.34px;letter-spacing:0.00px;white-space:nowrap">M</span> <span style="position:absolute;left:1177.90px;top:327.31px;font-size:14.21px;line-height:16.34px;letter-spacing:1.49px;white-space:nowrap">xy</span></div>
<div style="left:0;top:0"><span style="position:absolute;left:345.60px;top:577.54px;font-size:20.30px;line-height:23.34px;letter-spacing:0.99px;white-space:nowrap">local</span> <span style="position:absolute;left:395.35px;top:577.92px;font-size:19.89px;line-height:22.88px;letter-spacing:-0.90px;white-space:nowrap">SAR</span> <span style="position:absolute;left:439.20px;top:577.54px;font-size:20.30px;line-height:23.34px;letter-spacing:1.53px;white-space:nowrap">distribution</span></div>
<div style="left:0;top:0"><span style="position:absolute;left:369.80px;top:606.79px;font-size:20.30px;line-height:23.34px;letter-spacing:1.35px;white-space:nowrap">constant</span> <span style="position:absolute;left:461.20px;top:606.79px;font-size:20.30px;line-height:23.34px;letter-spacing:0.90px;white-space:nowrap">in</span> <span style="position:absolute;left:483.10px;top:606.79px;font-size:20.30px;line-height:23.34px;letter-spacing:2.02px;white-space:nowrap">time</span></div>
<div style="left:0;top:0"><span style="position:absolute;left:1021.60px;top:577.54px;font-size:20.30px;line-height:23.34px;letter-spacing:0.94px;white-space:nowrap">local</span> <span style="position:absolute;left:1071.25px;top:577.92px;font-size:19.89px;line-height:22.88px;letter-spacing:-0.90px;white-space:nowrap">SAR</span> <span style="position:absolute;left:1115.00px;top:577.54px;font-size:20.30px;line-height:23.34px;letter-spacing:1.53px;white-space:nowrap">distribution</span></div>
<div style="left:0;top:0"><span style="position:absolute;left:1046.90px;top:606.79px;font-size:20.30px;line-height:23.34px;letter-spacing:0.63px;white-space:nowrap">varies</span> <span style="position:absolute;left:1110.30px;top:606.79px;font-size:20.30px;line-height:23.34px;letter-spacing:2.17px;white-space:nowrap">with</span> <span style="position:absolute;left:1158.10px;top:606.79px;font-size:20.30px;line-height:23.34px;letter-spacing:2.02px;white-space:nowrap">time</span></div>
<div style="left:0;top:0"><span style="position:absolute;left:23.00px;top:450.89px;font-size:20.30px;line-height:23.34px;letter-spacing:0.40px;white-space:nowrap">8-ch</span> <span style="position:absolute;left:71.90px;top:450.89px;font-size:20.30px;line-height:23.34px;letter-spacing:1.47px;white-space:nowrap">loop</span> <span style="position:absolute;left:119.47px;top:450.89px;font-size:20.30px;line-height:23.34px;letter-spacing:-0.90px;white-space:nowrap">Tx</span> <span style="position:absolute;left:146.10px;top:450.89px;font-size:20.30px;line-height:23.34px;letter-spacing:0.84px;white-space:nowrap">array</span> <span style="position:absolute;left:201.80px;top:450.89px;font-size:20.30px;line-height:23.34px;letter-spacing:0.15px;white-space:nowrap">@7T</span></div>
<div style="left:0;top:0"><span style="position:absolute;left:67.40px;top:479.79px;font-size:20.30px;line-height:23.34px;letter-spacing:1.30px;white-space:nowrap">ball</span> <span style="position:absolute;left:109.00px;top:479.79px;font-size:20.30px;line-height:23.34px;letter-spacing:1.73px;white-space:nowrap">phantom</span></div>
<div style="left:0;top:0"><span style="position:absolute;left:18.30px;top:508.59px;font-size:20.30px;line-height:23.34px;letter-spacing:1.49px;white-space:nowrap">(ε</span> <span style="position:absolute;left:41.90px;top:508.59px;font-size:20.30px;line-height:23.34px;letter-spacing:0.00px;white-space:nowrap">=</span> <span style="position:absolute;left:59.00px;top:508.59px;font-size:20.30px;line-height:23.34px;letter-spacing:0.51px;white-space:nowrap">50.6;</span> <span style="position:absolute;left:113.80px;top:508.59px;font-size:20.30px;line-height:23.34px;letter-spacing:0.00px;white-space:nowrap">σ</span> <span style="position:absolute;left:138.10px;top:505.08px;font-size:24.77px;line-height:28.48px;letter-spacing:0.00px;white-space:nowrap;font-family:'Liberation Serif',serif">=</span> <span style="position:absolute;left:157.80px;top:508.59px;font-size:20.30px;line-height:23.34px;letter-spacing:0.56px;white-space:nowrap">0.66</span> <span style="position:absolute;left:205.90px;top:508.59px;font-size:20.30px;line-height:23.34px;letter-spacing:0.95px;white-space:nowrap">S/m)</span></div>
<div style="left:0;top:662px;width:1280px;height:58px;background:#141f57"></div>
<svg style="left:40px;top:668px" width="42" height="42" viewBox="40 668 42 42" fill="none" stroke="#fff">
<circle cx="60.6" cy="689.1" r="18" stroke-width=".9"/>
<circle cx="60.6" cy="689.1" r="14.9" stroke-width="1.5" stroke-dasharray="15.6 7.8 15.6 7.8 15.6 7.8 15.6 7.8" stroke-dashoffset="7.8" stroke-opacity=".95"/>
<path d="M52.7 697V683a3.97 3.97 0 0 1 7.95 0V696V683a3.97 3.97 0 0 1 7.95 0V697" stroke-width="5.3" stroke-linecap="round" stroke-linejoin="round"/>
<path d="M52.7 697V683a3.97 3.97 0 0 1 7.95 0V696V683a3.97 3.97 0 0 1 7.95 0V697" stroke="#141f57" stroke-width="2.2" stroke-linecap="round" stroke-linejoin="round"/>
<path d="M50.6 698.5a9.5 5.4 0 0 0 16.5 3.4" stroke-width="1.4"/>
</svg>
<div style="left:85px;top:677.5px;font-family:'Liberation Serif',serif;font-size:12.3px;line-height:12.4px;color:#e8eaf4;white-space:nowrap;letter-spacing:.1px">MEDICAL UNIVERSITY<br>OF VIENNA</div>
<div style="left:313px;top:677px;font-size:12.6px;line-height:15px;color:#fff;white-space:nowrap;letter-spacing:.8px;word-spacing:1px">[1] Kuehne A, et al. Magn. Reson. Med. 2015;74:1165-1176.</div>
<div style="left:900px;width:269px;top:671px;font-size:11.8px;line-height:14px;color:#fff;white-space:nowrap;text-align:right">Transmit Array and Circuitry, ISMRM 2019</div>
<div style="left:900px;width:269px;top:689.5px;font-size:11.5px;line-height:14px;color:#fff;white-space:nowrap;text-align:right;font-weight:bold">roberta.frass@meduniwien.ac.at</div>
<div style="left:1218px;top:689.5px;font-size:11.5px;line-height:14px;color:#fff;white-space:nowrap;letter-spacing:1px">17</div>
</div></body></html>
